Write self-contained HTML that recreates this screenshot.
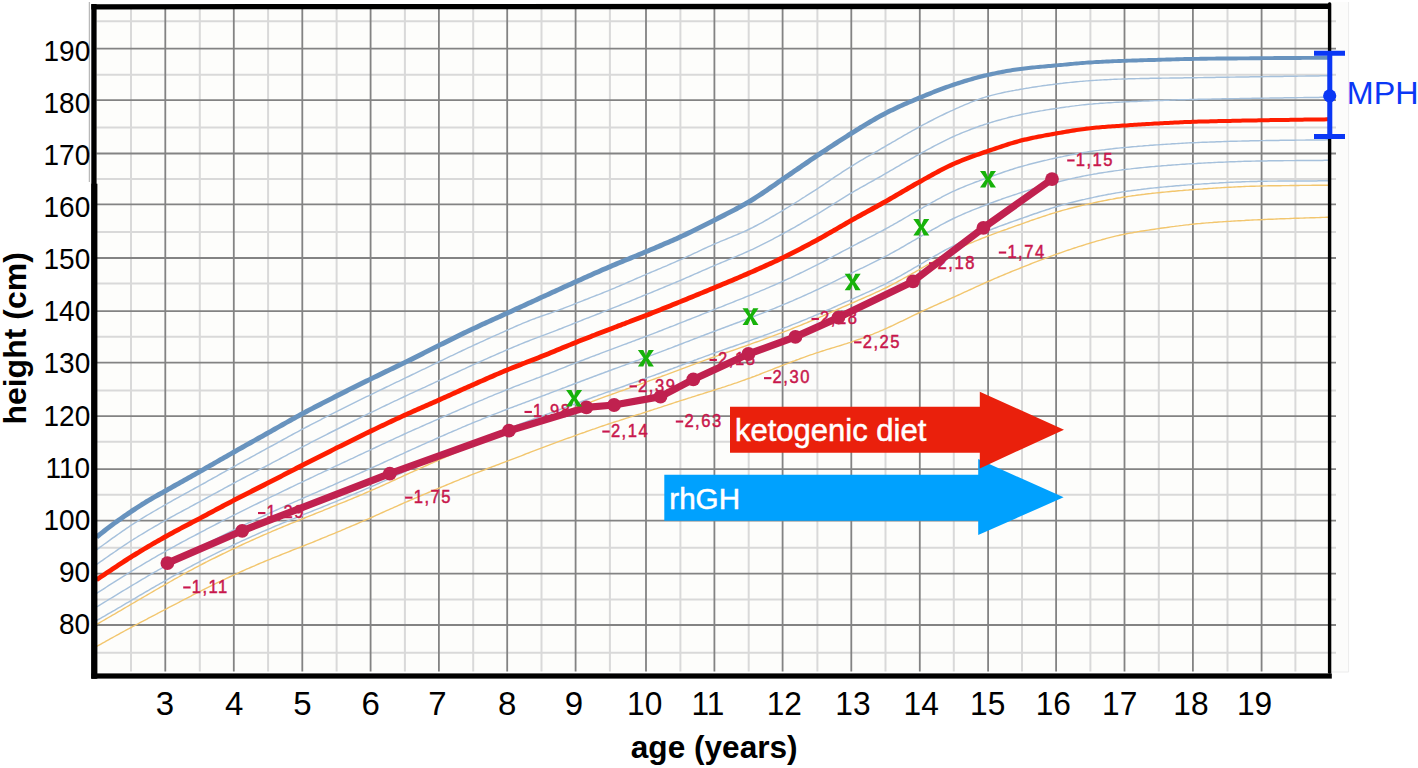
<!DOCTYPE html><html><head><meta charset="utf-8"><title>growth chart</title><style>
html,body{margin:0;padding:0;background:#fff;width:1418px;height:768px;overflow:hidden}
svg{display:block} text{font-family:"Liberation Sans",sans-serif}
</style></head><body>
<svg width="1418" height="768" viewBox="0 0 1418 768">
<rect x="1331" y="2" width="17.5" height="670" fill="#fcfcfb"/>
<path d="M1348.6,2 V672 H1331" stroke="#ececec" stroke-width="1" fill="none"/>
<rect x="93" y="6" width="1237" height="665.8" fill="#fdfdfb"/>
<path d="M131,7 V671.6 M199.8,7 V671.6 M268.1,7 V671.6 M336.6,7 V671.6 M404.9,7 V671.6 M473.2,7 V671.6 M541.5,7 V671.6 M609.9,7 V671.6 M680.4,7 V671.6 M748.7,7 V671.6 M817.4,7 V671.6 M885.5,7 V671.6 M953.8,7 V671.6 M1022,7 V671.6 M1090.4,7 V671.6 M1158.8,7 V671.6 M1227.5,7 V671.6 M1295.4,7 V671.6 M96.5,21.2 H1336 M96.5,74.8 H1336 M96.5,127.4 H1336 M96.5,178.9 H1336 M96.5,232 H1336 M96.5,283.5 H1336 M96.5,336.7 H1336 M96.5,390.5 H1336 M96.5,441.8 H1336 M96.5,494.8 H1336 M96.5,547.8 H1336 M96.5,599.6 H1336 M96.5,652.8 H1336" stroke="#d9d9d9" stroke-width="2" fill="none"/>
<path d="M165.3,7 V671.6 M233.8,7 V671.6 M302.3,7 V671.6 M370.6,7 V671.6 M438.9,7 V671.6 M507.2,7 V671.6 M575.6,7 V671.6 M646,7 V671.6 M714.4,7 V671.6 M782.6,7 V671.6 M851.3,7 V671.6 M919.8,7 V671.6 M988.1,7 V671.6 M1056.1,7 V671.6 M1124.5,7 V671.6 M1192.9,7 V671.6 M1261.6,7 V671.6 M96.5,48.6 H1336 M96.5,100.1 H1336 M96.5,153.5 H1336 M96.5,204.4 H1336 M96.5,258 H1336 M96.5,311.2 H1336 M96.5,362.6 H1336 M96.5,416.2 H1336 M96.5,469.2 H1336 M96.5,520.6 H1336 M96.5,573.7 H1336 M96.5,625 H1336" stroke="#838383" stroke-width="1.8" fill="none"/>
<path d="M89.3,2 V182" stroke="#a8a8a8" stroke-width="1"/>
<path d="M96.5,646.5 L98.5,645.4 L100.5,644.3 L102.5,643.2 L104.5,642.1 L106.5,640.9 L108.5,639.8 L110.5,638.7 L112.5,637.6 L114.5,636.5 L116.5,635.4 L118.5,634.3 L120.5,633.2 L122.5,632.1 L124.5,631 L126.5,629.9 L128.5,628.9 L130.5,627.8 L132.5,626.7 L134.5,625.6 L136.5,624.6 L138.5,623.5 L140.5,622.4 L142.5,621.4 L144.5,620.3 L146.5,619.3 L148.5,618.2 L150.5,617.2 L152.5,616.1 L154.5,615.1 L156.5,614 L158.5,613 L160.5,611.9 L162.5,610.9 L164.5,609.8 L166.5,608.8 L168.5,607.7 L170.5,606.7 L172.5,605.6 L174.5,604.6 L176.5,603.6 L178.5,602.5 L180.5,601.5 L182.5,600.4 L184.5,599.4 L186.5,598.3 L188.5,597.3 L190.5,596.3 L192.5,595.2 L194.5,594.2 L196.5,593.2 L198.5,592.1 L200.5,591.1 L202.5,590.1 L204.5,589.1 L206.5,588.1 L208.5,587.1 L210.5,586.2 L212.5,585.2 L214.5,584.2 L216.5,583.2 L218.5,582.2 L220.5,581.3 L222.5,580.3 L224.5,579.4 L226.5,578.4 L228.5,577.5 L230.5,576.5 L232.5,575.6 L234.5,574.7 L236.5,573.8 L238.5,572.8 L240.5,571.9 L242.5,571 L244.5,570.1 L246.5,569.2 L248.5,568.4 L250.5,567.5 L252.5,566.6 L254.5,565.8 L256.5,564.9 L258.5,564 L260.5,563.2 L262.5,562.4 L264.5,561.5 L266.5,560.7 L268.5,559.9 L270.5,559.1 L272.5,558.2 L274.5,557.4 L276.5,556.6 L278.5,555.8 L280.5,555 L282.5,554.2 L284.5,553.4 L286.5,552.6 L288.5,551.8 L290.5,551 L292.5,550.2 L294.5,549.4 L296.5,548.7 L298.5,547.9 L300.5,547.1 L302.5,546.3 L304.5,545.5 L306.5,544.7 L308.5,543.9 L310.5,543.1 L312.5,542.3 L314.5,541.5 L316.5,540.7 L318.5,539.8 L320.5,539 L322.5,538.2 L324.5,537.4 L326.5,536.6 L328.5,535.7 L330.5,534.9 L332.5,534.1 L334.5,533.3 L336.5,532.4 L338.5,531.6 L340.5,530.8 L342.5,529.9 L344.5,529.1 L346.5,528.2 L348.5,527.4 L350.5,526.5 L352.5,525.7 L354.5,524.8 L356.5,524 L358.5,523.1 L360.5,522.2 L362.5,521.4 L364.5,520.5 L366.5,519.6 L368.5,518.8 L370.5,517.9 L372.5,517 L374.5,516.1 L376.5,515.2 L378.5,514.3 L380.5,513.4 L382.5,512.5 L384.5,511.6 L386.5,510.7 L388.5,509.8 L390.5,508.9 L392.5,508.1 L394.5,507.2 L396.5,506.3 L398.5,505.4 L400.5,504.5 L402.5,503.6 L404.5,502.7 L406.5,501.9 L408.5,501 L410.5,500.1 L412.5,499.3 L414.5,498.4 L416.5,497.6 L418.5,496.7 L420.5,495.9 L422.5,495 L424.5,494.2 L426.5,493.3 L428.5,492.5 L430.5,491.7 L432.5,490.8 L434.5,490 L436.5,489.2 L438.5,488.3 L440.5,487.5 L442.5,486.7 L444.5,485.8 L446.5,485 L448.5,484.2 L450.5,483.3 L452.5,482.5 L454.5,481.7 L456.5,480.9 L458.5,480.1 L460.5,479.2 L462.5,478.4 L464.5,477.6 L466.5,476.8 L468.5,476 L470.5,475.2 L472.5,474.4 L474.5,473.6 L476.5,472.9 L478.5,472.1 L480.5,471.3 L482.5,470.5 L484.5,469.8 L486.5,469 L488.5,468.2 L490.5,467.5 L492.5,466.7 L494.5,466 L496.5,465.2 L498.5,464.5 L500.5,463.7 L502.5,462.9 L504.5,462.2 L506.5,461.4 L508.5,460.7 L510.5,459.9 L512.5,459.1 L514.5,458.4 L516.5,457.6 L518.5,456.8 L520.5,456.1 L522.5,455.3 L524.5,454.5 L526.5,453.7 L528.5,453 L530.5,452.2 L532.5,451.4 L534.5,450.7 L536.5,449.9 L538.5,449.1 L540.5,448.4 L542.5,447.6 L544.5,446.9 L546.5,446.1 L548.5,445.4 L550.5,444.6 L552.5,443.9 L554.5,443.1 L556.5,442.4 L558.5,441.6 L560.5,440.9 L562.5,440.2 L564.5,439.4 L566.5,438.7 L568.5,438 L570.5,437.3 L572.5,436.6 L574.5,435.8 L576.5,435.1 L578.5,434.4 L580.5,433.7 L582.5,433 L584.5,432.3 L586.5,431.5 L588.5,430.8 L590.5,430.1 L592.5,429.4 L594.5,428.8 L596.5,428.1 L598.5,427.4 L600.5,426.7 L602.5,426 L604.5,425.3 L606.5,424.7 L608.5,424 L610.5,423.3 L612.5,422.7 L614.5,422 L616.5,421.4 L618.5,420.8 L620.5,420.1 L622.5,419.5 L624.5,418.8 L626.5,418.2 L628.5,417.6 L630.5,416.9 L632.5,416.3 L634.5,415.7 L636.5,415 L638.5,414.4 L640.5,413.8 L642.5,413.1 L644.5,412.5 L646.5,411.8 L648.5,411.2 L650.5,410.5 L652.5,409.9 L654.5,409.2 L656.5,408.6 L658.5,407.9 L660.5,407.3 L662.5,406.6 L664.5,405.9 L666.5,405.3 L668.5,404.6 L670.5,404 L672.5,403.3 L674.5,402.7 L676.5,402 L678.5,401.4 L680.5,400.7 L682.5,400.1 L684.5,399.5 L686.5,398.8 L688.5,398.2 L690.5,397.6 L692.5,396.9 L694.5,396.3 L696.5,395.7 L698.5,395 L700.5,394.4 L702.5,393.8 L704.5,393.1 L706.5,392.5 L708.5,391.9 L710.5,391.3 L712.5,390.6 L714.5,390 L716.5,389.3 L718.5,388.7 L720.5,388.1 L722.5,387.4 L724.5,386.8 L726.5,386.1 L728.5,385.4 L730.5,384.8 L732.5,384.1 L734.5,383.4 L736.5,382.8 L738.5,382.1 L740.5,381.4 L742.5,380.7 L744.5,380 L746.5,379.2 L748.5,378.5 L750.5,377.8 L752.5,377 L754.5,376.3 L756.5,375.5 L758.5,374.8 L760.5,374 L762.5,373.2 L764.5,372.4 L766.5,371.7 L768.5,370.9 L770.5,370.1 L772.5,369.3 L774.5,368.5 L776.5,367.7 L778.5,367 L780.5,366.2 L782.5,365.4 L784.5,364.6 L786.5,363.8 L788.5,363.1 L790.5,362.3 L792.5,361.5 L794.5,360.8 L796.5,360 L798.5,359.3 L800.5,358.5 L802.5,357.8 L804.5,357.1 L806.5,356.3 L808.5,355.6 L810.5,354.9 L812.5,354.3 L814.5,353.6 L816.5,352.9 L818.5,352.3 L820.5,351.6 L822.5,351 L824.5,350.4 L826.5,349.7 L828.5,349.1 L830.5,348.5 L832.5,347.9 L834.5,347.3 L836.5,346.7 L838.5,346.1 L840.5,345.5 L842.5,344.8 L844.5,344.2 L846.5,343.6 L848.5,342.9 L850.5,342.3 L852.5,341.6 L854.5,340.9 L856.5,340.2 L858.5,339.5 L860.5,338.8 L862.5,338.1 L864.5,337.3 L866.5,336.6 L868.5,335.8 L870.5,335 L872.5,334.3 L874.5,333.4 L876.5,332.6 L878.5,331.8 L880.5,330.9 L882.5,330.1 L884.5,329.2 L886.5,328.3 L888.5,327.4 L890.5,326.5 L892.5,325.6 L894.5,324.6 L896.5,323.7 L898.5,322.7 L900.5,321.7 L902.5,320.8 L904.5,319.8 L906.5,318.8 L908.5,317.8 L910.5,316.9 L912.5,315.9 L914.5,314.9 L916.5,314 L918.5,313 L920.5,312.1 L922.5,311.1 L924.5,310.2 L926.5,309.3 L928.5,308.4 L930.5,307.5 L932.5,306.6 L934.5,305.7 L936.5,304.8 L938.5,303.9 L940.5,303 L942.5,302.1 L944.5,301.3 L946.5,300.4 L948.5,299.5 L950.5,298.6 L952.5,297.7 L954.5,296.8 L956.5,295.9 L958.5,295 L960.5,294.1 L962.5,293.1 L964.5,292.2 L966.5,291.3 L968.5,290.4 L970.5,289.5 L972.5,288.6 L974.5,287.6 L976.5,286.7 L978.5,285.8 L980.5,284.9 L982.5,284 L984.5,283.1 L986.5,282.2 L988.5,281.3 L990.5,280.5 L992.5,279.6 L994.5,278.7 L996.5,277.9 L998.5,277 L1000.5,276.2 L1002.5,275.3 L1004.5,274.5 L1006.5,273.7 L1008.5,272.8 L1010.5,272 L1012.5,271.2 L1014.5,270.4 L1016.5,269.6 L1018.5,268.8 L1020.5,268 L1022.5,267.2 L1024.5,266.4 L1026.5,265.6 L1028.5,264.8 L1030.5,264 L1032.5,263.2 L1034.5,262.4 L1036.5,261.7 L1038.5,260.9 L1040.5,260.1 L1042.5,259.4 L1044.5,258.6 L1046.5,257.9 L1048.5,257.1 L1050.5,256.4 L1052.5,255.7 L1054.5,254.9 L1056.5,254.2 L1058.5,253.5 L1060.5,252.8 L1062.5,252.1 L1064.5,251.4 L1066.5,250.7 L1068.5,250 L1070.5,249.4 L1072.5,248.7 L1074.5,248 L1076.5,247.4 L1078.5,246.7 L1080.5,246.1 L1082.5,245.5 L1084.5,244.8 L1086.5,244.2 L1088.5,243.6 L1090.5,243 L1092.5,242.4 L1094.5,241.8 L1096.5,241.2 L1098.5,240.6 L1100.5,240.1 L1102.5,239.5 L1104.5,239 L1106.5,238.4 L1108.5,237.9 L1110.5,237.4 L1112.5,236.9 L1114.5,236.4 L1116.5,235.9 L1118.5,235.5 L1120.5,235 L1122.5,234.6 L1124.5,234.2 L1126.5,233.8 L1128.5,233.4 L1130.5,233 L1132.5,232.7 L1134.5,232.3 L1136.5,232 L1138.5,231.6 L1140.5,231.3 L1142.5,231 L1144.5,230.7 L1146.5,230.4 L1148.5,230.1 L1150.5,229.8 L1152.5,229.5 L1154.5,229.2 L1156.5,228.9 L1158.5,228.6 L1160.5,228.3 L1162.5,228 L1164.5,227.7 L1166.5,227.5 L1168.5,227.2 L1170.5,226.9 L1172.5,226.6 L1174.5,226.4 L1176.5,226.1 L1178.5,225.9 L1180.5,225.6 L1182.5,225.4 L1184.5,225.1 L1186.5,224.9 L1188.5,224.7 L1190.5,224.4 L1192.5,224.2 L1194.5,224 L1196.5,223.8 L1198.5,223.6 L1200.5,223.5 L1202.5,223.3 L1204.5,223.1 L1206.5,222.9 L1208.5,222.8 L1210.5,222.6 L1212.5,222.5 L1214.5,222.3 L1216.5,222.2 L1218.5,222 L1220.5,221.9 L1222.5,221.8 L1224.5,221.6 L1226.5,221.5 L1228.5,221.4 L1230.5,221.3 L1232.5,221.1 L1234.5,221 L1236.5,220.9 L1238.5,220.8 L1240.5,220.7 L1242.5,220.6 L1244.5,220.5 L1246.5,220.3 L1248.5,220.2 L1250.5,220.1 L1252.5,220 L1254.5,219.9 L1256.5,219.9 L1258.5,219.8 L1260.5,219.7 L1262.5,219.6 L1264.5,219.5 L1266.5,219.4 L1268.5,219.3 L1270.5,219.2 L1272.5,219.2 L1274.5,219.1 L1276.5,219 L1278.5,218.9 L1280.5,218.8 L1282.5,218.8 L1284.5,218.7 L1286.5,218.6 L1288.5,218.6 L1290.5,218.5 L1292.5,218.4 L1294.5,218.3 L1296.5,218.3 L1298.5,218.2 L1300.5,218.1 L1302.5,218.1 L1304.5,218 L1306.5,217.9 L1308.5,217.9 L1310.5,217.8 L1312.5,217.7 L1314.5,217.7 L1316.5,217.6 L1318.5,217.6 L1320.5,217.5 L1322.5,217.4 L1324.5,217.4 L1326.5,217.3 L1328.5,217.2 L1329,217.2" stroke="#f2c66e" stroke-width="1.4" fill="none"/>
<path d="M96.5,624.5 L98.5,623.3 L100.5,622.2 L102.5,621 L104.5,619.9 L106.5,618.7 L108.5,617.5 L110.5,616.4 L112.5,615.2 L114.5,614.1 L116.5,612.9 L118.5,611.7 L120.5,610.6 L122.5,609.4 L124.5,608.2 L126.5,607 L128.5,605.9 L130.5,604.7 L132.5,603.5 L134.5,602.4 L136.5,601.2 L138.5,600 L140.5,598.8 L142.5,597.7 L144.5,596.5 L146.5,595.3 L148.5,594.2 L150.5,593 L152.5,591.8 L154.5,590.7 L156.5,589.5 L158.5,588.4 L160.5,587.2 L162.5,586.1 L164.5,584.9 L166.5,583.8 L168.5,582.6 L170.5,581.5 L172.5,580.3 L174.5,579.2 L176.5,578.1 L178.5,577 L180.5,575.8 L182.5,574.7 L184.5,573.6 L186.5,572.5 L188.5,571.4 L190.5,570.4 L192.5,569.3 L194.5,568.2 L196.5,567.1 L198.5,566.1 L200.5,565 L202.5,564 L204.5,563 L206.5,562 L208.5,560.9 L210.5,559.9 L212.5,558.9 L214.5,558 L216.5,557 L218.5,556 L220.5,555 L222.5,554 L224.5,553.1 L226.5,552.1 L228.5,551.1 L230.5,550.2 L232.5,549.2 L234.5,548.3 L236.5,547.3 L238.5,546.4 L240.5,545.5 L242.5,544.5 L244.5,543.6 L246.5,542.7 L248.5,541.8 L250.5,540.9 L252.5,540 L254.5,539.1 L256.5,538.2 L258.5,537.3 L260.5,536.4 L262.5,535.5 L264.5,534.6 L266.5,533.8 L268.5,532.9 L270.5,532.1 L272.5,531.2 L274.5,530.3 L276.5,529.5 L278.5,528.7 L280.5,527.8 L282.5,527 L284.5,526.2 L286.5,525.3 L288.5,524.5 L290.5,523.7 L292.5,522.9 L294.5,522.1 L296.5,521.3 L298.5,520.5 L300.5,519.6 L302.5,518.8 L304.5,518 L306.5,517.2 L308.5,516.4 L310.5,515.6 L312.5,514.8 L314.5,514 L316.5,513.2 L318.5,512.4 L320.5,511.6 L322.5,510.8 L324.5,509.9 L326.5,509.1 L328.5,508.3 L330.5,507.5 L332.5,506.7 L334.5,505.9 L336.5,505.1 L338.5,504.2 L340.5,503.4 L342.5,502.6 L344.5,501.8 L346.5,501 L348.5,500.1 L350.5,499.3 L352.5,498.5 L354.5,497.6 L356.5,496.8 L358.5,496 L360.5,495.1 L362.5,494.3 L364.5,493.4 L366.5,492.5 L368.5,491.7 L370.5,490.8 L372.5,489.9 L374.5,489.1 L376.5,488.2 L378.5,487.3 L380.5,486.4 L382.5,485.5 L384.5,484.6 L386.5,483.7 L388.5,482.8 L390.5,481.9 L392.5,480.9 L394.5,480 L396.5,479.1 L398.5,478.2 L400.5,477.3 L402.5,476.3 L404.5,475.4 L406.5,474.5 L408.5,473.6 L410.5,472.7 L412.5,471.8 L414.5,470.9 L416.5,470 L418.5,469.1 L420.5,468.2 L422.5,467.3 L424.5,466.4 L426.5,465.5 L428.5,464.6 L430.5,463.7 L432.5,462.8 L434.5,461.9 L436.5,461 L438.5,460.1 L440.5,459.3 L442.5,458.4 L444.5,457.5 L446.5,456.7 L448.5,455.8 L450.5,454.9 L452.5,454.1 L454.5,453.2 L456.5,452.4 L458.5,451.6 L460.5,450.7 L462.5,449.9 L464.5,449.1 L466.5,448.3 L468.5,447.5 L470.5,446.7 L472.5,445.9 L474.5,445.1 L476.5,444.3 L478.5,443.5 L480.5,442.7 L482.5,441.9 L484.5,441.2 L486.5,440.4 L488.5,439.6 L490.5,438.9 L492.5,438.1 L494.5,437.4 L496.5,436.6 L498.5,435.9 L500.5,435.1 L502.5,434.4 L504.5,433.6 L506.5,432.9 L508.5,432.2 L510.5,431.4 L512.5,430.7 L514.5,429.9 L516.5,429.2 L518.5,428.5 L520.5,427.7 L522.5,427 L524.5,426.3 L526.5,425.5 L528.5,424.8 L530.5,424.1 L532.5,423.3 L534.5,422.6 L536.5,421.9 L538.5,421.1 L540.5,420.4 L542.5,419.7 L544.5,418.9 L546.5,418.2 L548.5,417.5 L550.5,416.7 L552.5,416 L554.5,415.3 L556.5,414.6 L558.5,413.8 L560.5,413.1 L562.5,412.4 L564.5,411.6 L566.5,410.9 L568.5,410.2 L570.5,409.4 L572.5,408.7 L574.5,408 L576.5,407.2 L578.5,406.5 L580.5,405.8 L582.5,405 L584.5,404.3 L586.5,403.5 L588.5,402.8 L590.5,402.1 L592.5,401.3 L594.5,400.6 L596.5,399.9 L598.5,399.1 L600.5,398.4 L602.5,397.7 L604.5,396.9 L606.5,396.2 L608.5,395.5 L610.5,394.8 L612.5,394 L614.5,393.3 L616.5,392.6 L618.5,391.9 L620.5,391.2 L622.5,390.5 L624.5,389.8 L626.5,389 L628.5,388.3 L630.5,387.6 L632.5,386.9 L634.5,386.2 L636.5,385.5 L638.5,384.8 L640.5,384 L642.5,383.3 L644.5,382.6 L646.5,381.9 L648.5,381.1 L650.5,380.4 L652.5,379.7 L654.5,379 L656.5,378.2 L658.5,377.5 L660.5,376.8 L662.5,376 L664.5,375.3 L666.5,374.6 L668.5,373.8 L670.5,373.1 L672.5,372.4 L674.5,371.6 L676.5,370.9 L678.5,370.1 L680.5,369.4 L682.5,368.6 L684.5,367.9 L686.5,367.1 L688.5,366.4 L690.5,365.6 L692.5,364.9 L694.5,364.1 L696.5,363.4 L698.5,362.6 L700.5,361.9 L702.5,361.2 L704.5,360.4 L706.5,359.7 L708.5,359 L710.5,358.2 L712.5,357.5 L714.5,356.8 L716.5,356.1 L718.5,355.4 L720.5,354.7 L722.5,353.9 L724.5,353.2 L726.5,352.5 L728.5,351.8 L730.5,351.1 L732.5,350.5 L734.5,349.8 L736.5,349.1 L738.5,348.4 L740.5,347.7 L742.5,347 L744.5,346.3 L746.5,345.6 L748.5,344.9 L750.5,344.2 L752.5,343.4 L754.5,342.7 L756.5,342 L758.5,341.3 L760.5,340.6 L762.5,339.9 L764.5,339.1 L766.5,338.4 L768.5,337.7 L770.5,336.9 L772.5,336.2 L774.5,335.4 L776.5,334.7 L778.5,333.9 L780.5,333.2 L782.5,332.4 L784.5,331.6 L786.5,330.9 L788.5,330.1 L790.5,329.3 L792.5,328.5 L794.5,327.7 L796.5,326.9 L798.5,326.1 L800.5,325.3 L802.5,324.5 L804.5,323.7 L806.5,322.9 L808.5,322 L810.5,321.2 L812.5,320.4 L814.5,319.5 L816.5,318.6 L818.5,317.8 L820.5,316.9 L822.5,316.1 L824.5,315.2 L826.5,314.3 L828.5,313.4 L830.5,312.6 L832.5,311.7 L834.5,310.8 L836.5,309.9 L838.5,309 L840.5,308.1 L842.5,307.2 L844.5,306.3 L846.5,305.5 L848.5,304.6 L850.5,303.7 L852.5,302.8 L854.5,302 L856.5,301.1 L858.5,300.2 L860.5,299.3 L862.5,298.5 L864.5,297.6 L866.5,296.7 L868.5,295.8 L870.5,295 L872.5,294.1 L874.5,293.2 L876.5,292.2 L878.5,291.3 L880.5,290.4 L882.5,289.4 L884.5,288.5 L886.5,287.5 L888.5,286.5 L890.5,285.5 L892.5,284.4 L894.5,283.4 L896.5,282.3 L898.5,281.2 L900.5,280.1 L902.5,279 L904.5,277.9 L906.5,276.8 L908.5,275.7 L910.5,274.6 L912.5,273.4 L914.5,272.3 L916.5,271.1 L918.5,270 L920.5,268.8 L922.5,267.7 L924.5,266.5 L926.5,265.4 L928.5,264.3 L930.5,263.1 L932.5,262 L934.5,260.9 L936.5,259.7 L938.5,258.6 L940.5,257.5 L942.5,256.5 L944.5,255.4 L946.5,254.3 L948.5,253.3 L950.5,252.3 L952.5,251.3 L954.5,250.3 L956.5,249.3 L958.5,248.4 L960.5,247.5 L962.5,246.6 L964.5,245.7 L966.5,244.8 L968.5,243.9 L970.5,243.1 L972.5,242.3 L974.5,241.4 L976.5,240.6 L978.5,239.8 L980.5,239 L982.5,238.2 L984.5,237.5 L986.5,236.7 L988.5,235.9 L990.5,235.2 L992.5,234.4 L994.5,233.7 L996.5,232.9 L998.5,232.2 L1000.5,231.4 L1002.5,230.7 L1004.5,230 L1006.5,229.3 L1008.5,228.5 L1010.5,227.8 L1012.5,227.1 L1014.5,226.4 L1016.5,225.7 L1018.5,225 L1020.5,224.3 L1022.5,223.6 L1024.5,222.9 L1026.5,222.2 L1028.5,221.5 L1030.5,220.7 L1032.5,220 L1034.5,219.3 L1036.5,218.7 L1038.5,218 L1040.5,217.3 L1042.5,216.6 L1044.5,216 L1046.5,215.3 L1048.5,214.7 L1050.5,214 L1052.5,213.4 L1054.5,212.8 L1056.5,212.2 L1058.5,211.6 L1060.5,211 L1062.5,210.4 L1064.5,209.9 L1066.5,209.4 L1068.5,208.8 L1070.5,208.3 L1072.5,207.8 L1074.5,207.3 L1076.5,206.8 L1078.5,206.3 L1080.5,205.8 L1082.5,205.3 L1084.5,204.9 L1086.5,204.4 L1088.5,204 L1090.5,203.5 L1092.5,203.1 L1094.5,202.6 L1096.5,202.2 L1098.5,201.8 L1100.5,201.4 L1102.5,201 L1104.5,200.6 L1106.5,200.2 L1108.5,199.8 L1110.5,199.4 L1112.5,199.1 L1114.5,198.7 L1116.5,198.3 L1118.5,198 L1120.5,197.7 L1122.5,197.3 L1124.5,197 L1126.5,196.7 L1128.5,196.4 L1130.5,196.1 L1132.5,195.8 L1134.5,195.6 L1136.5,195.3 L1138.5,195 L1140.5,194.8 L1142.5,194.5 L1144.5,194.3 L1146.5,194 L1148.5,193.8 L1150.5,193.6 L1152.5,193.3 L1154.5,193.1 L1156.5,192.9 L1158.5,192.7 L1160.5,192.5 L1162.5,192.3 L1164.5,192.1 L1166.5,191.9 L1168.5,191.7 L1170.5,191.5 L1172.5,191.3 L1174.5,191.2 L1176.5,191 L1178.5,190.8 L1180.5,190.6 L1182.5,190.5 L1184.5,190.3 L1186.5,190.1 L1188.5,190 L1190.5,189.8 L1192.5,189.7 L1194.5,189.5 L1196.5,189.4 L1198.5,189.2 L1200.5,189.1 L1202.5,189 L1204.5,188.8 L1206.5,188.7 L1208.5,188.5 L1210.5,188.4 L1212.5,188.3 L1214.5,188.1 L1216.5,188 L1218.5,187.9 L1220.5,187.8 L1222.5,187.6 L1224.5,187.5 L1226.5,187.4 L1228.5,187.3 L1230.5,187.2 L1232.5,187.1 L1234.5,187 L1236.5,186.9 L1238.5,186.8 L1240.5,186.7 L1242.5,186.6 L1244.5,186.5 L1246.5,186.4 L1248.5,186.4 L1250.5,186.3 L1252.5,186.2 L1254.5,186.2 L1256.5,186.1 L1258.5,186.1 L1260.5,186 L1262.5,186 L1264.5,185.9 L1266.5,185.9 L1268.5,185.8 L1270.5,185.8 L1272.5,185.8 L1274.5,185.7 L1276.5,185.7 L1278.5,185.7 L1280.5,185.7 L1282.5,185.6 L1284.5,185.6 L1286.5,185.6 L1288.5,185.6 L1290.5,185.5 L1292.5,185.5 L1294.5,185.5 L1296.5,185.5 L1298.5,185.5 L1300.5,185.4 L1302.5,185.4 L1304.5,185.4 L1306.5,185.4 L1308.5,185.4 L1310.5,185.4 L1312.5,185.3 L1314.5,185.3 L1316.5,185.3 L1318.5,185.3 L1320.5,185.3 L1322.5,185.3 L1324.5,185.2 L1326.5,185.2 L1328.5,185.2 L1329,185.2" stroke="#f2c66e" stroke-width="1.4" fill="none"/>
<path d="M96.5,549.8 L98.5,548.4 L100.5,546.9 L102.5,545.5 L104.5,544 L106.5,542.6 L108.5,541.1 L110.5,539.7 L112.5,538.2 L114.5,536.8 L116.5,535.4 L118.5,534 L120.5,532.6 L122.5,531.2 L124.5,529.8 L126.5,528.4 L128.5,527.1 L130.5,525.7 L132.5,524.4 L134.5,523.1 L136.5,521.9 L138.5,520.6 L140.5,519.4 L142.5,518.1 L144.5,516.9 L146.5,515.7 L148.5,514.5 L150.5,513.3 L152.5,512.2 L154.5,511 L156.5,509.8 L158.5,508.7 L160.5,507.5 L162.5,506.3 L164.5,505.2 L166.5,504.1 L168.5,502.9 L170.5,501.8 L172.5,500.7 L174.5,499.5 L176.5,498.4 L178.5,497.3 L180.5,496.2 L182.5,495.1 L184.5,494 L186.5,492.9 L188.5,491.8 L190.5,490.7 L192.5,489.6 L194.5,488.5 L196.5,487.4 L198.5,486.3 L200.5,485.2 L202.5,484.1 L204.5,483 L206.5,481.8 L208.5,480.7 L210.5,479.6 L212.5,478.5 L214.5,477.4 L216.5,476.3 L218.5,475.1 L220.5,474 L222.5,472.9 L224.5,471.8 L226.5,470.7 L228.5,469.6 L230.5,468.5 L232.5,467.4 L234.5,466.3 L236.5,465.2 L238.5,464 L240.5,462.9 L242.5,461.8 L244.5,460.7 L246.5,459.7 L248.5,458.6 L250.5,457.5 L252.5,456.4 L254.5,455.3 L256.5,454.2 L258.5,453.1 L260.5,452 L262.5,450.9 L264.5,449.8 L266.5,448.7 L268.5,447.6 L270.5,446.5 L272.5,445.5 L274.5,444.4 L276.5,443.3 L278.5,442.2 L280.5,441.1 L282.5,440 L284.5,438.9 L286.5,437.8 L288.5,436.7 L290.5,435.6 L292.5,434.5 L294.5,433.4 L296.5,432.4 L298.5,431.3 L300.5,430.2 L302.5,429.1 L304.5,428.1 L306.5,427 L308.5,426 L310.5,424.9 L312.5,423.9 L314.5,422.9 L316.5,421.8 L318.5,420.8 L320.5,419.8 L322.5,418.7 L324.5,417.7 L326.5,416.7 L328.5,415.7 L330.5,414.6 L332.5,413.6 L334.5,412.6 L336.5,411.6 L338.5,410.6 L340.5,409.6 L342.5,408.6 L344.5,407.6 L346.5,406.6 L348.5,405.6 L350.5,404.6 L352.5,403.6 L354.5,402.6 L356.5,401.6 L358.5,400.6 L360.5,399.7 L362.5,398.7 L364.5,397.7 L366.5,396.7 L368.5,395.8 L370.5,394.8 L372.5,393.8 L374.5,392.8 L376.5,391.9 L378.5,390.9 L380.5,389.9 L382.5,389 L384.5,388 L386.5,387 L388.5,386.1 L390.5,385.1 L392.5,384.2 L394.5,383.2 L396.5,382.2 L398.5,381.3 L400.5,380.3 L402.5,379.3 L404.5,378.4 L406.5,377.4 L408.5,376.5 L410.5,375.5 L412.5,374.5 L414.5,373.6 L416.5,372.6 L418.5,371.6 L420.5,370.7 L422.5,369.7 L424.5,368.8 L426.5,367.8 L428.5,366.8 L430.5,365.9 L432.5,364.9 L434.5,363.9 L436.5,363 L438.5,362 L440.5,361 L442.5,360.1 L444.5,359.1 L446.5,358.2 L448.5,357.2 L450.5,356.2 L452.5,355.3 L454.5,354.3 L456.5,353.4 L458.5,352.4 L460.5,351.5 L462.5,350.5 L464.5,349.6 L466.5,348.7 L468.5,347.7 L470.5,346.8 L472.5,345.9 L474.5,344.9 L476.5,344 L478.5,343.1 L480.5,342.2 L482.5,341.3 L484.5,340.4 L486.5,339.4 L488.5,338.5 L490.5,337.6 L492.5,336.7 L494.5,335.8 L496.5,334.9 L498.5,334.1 L500.5,333.2 L502.5,332.3 L504.5,331.4 L506.5,330.5 L508.5,329.6 L510.5,328.7 L512.5,327.8 L514.5,326.9 L516.5,326 L518.5,325.1 L520.5,324.3 L522.5,323.4 L524.5,322.6 L526.5,321.8 L528.5,321 L530.5,320.2 L532.5,319.4 L534.5,318.7 L536.5,317.9 L538.5,317.2 L540.5,316.5 L542.5,315.8 L544.5,315.1 L546.5,314.4 L548.5,313.7 L550.5,313.1 L552.5,312.4 L554.5,311.6 L556.5,310.9 L558.5,310.2 L560.5,309.4 L562.5,308.7 L564.5,307.9 L566.5,307.1 L568.5,306.4 L570.5,305.6 L572.5,304.8 L574.5,304 L576.5,303.2 L578.5,302.4 L580.5,301.6 L582.5,300.8 L584.5,300 L586.5,299.3 L588.5,298.5 L590.5,297.7 L592.5,296.9 L594.5,296.1 L596.5,295.3 L598.5,294.6 L600.5,293.8 L602.5,293 L604.5,292.2 L606.5,291.4 L608.5,290.6 L610.5,289.7 L612.5,288.9 L614.5,288.1 L616.5,287.2 L618.5,286.4 L620.5,285.5 L622.5,284.7 L624.5,283.8 L626.5,282.9 L628.5,282 L630.5,281.2 L632.5,280.3 L634.5,279.4 L636.5,278.5 L638.5,277.7 L640.5,276.8 L642.5,275.9 L644.5,275.1 L646.5,274.2 L648.5,273.4 L650.5,272.5 L652.5,271.7 L654.5,270.8 L656.5,270 L658.5,269.1 L660.5,268.3 L662.5,267.4 L664.5,266.6 L666.5,265.8 L668.5,264.9 L670.5,264 L672.5,263.2 L674.5,262.3 L676.5,261.4 L678.5,260.5 L680.5,259.7 L682.5,258.8 L684.5,257.9 L686.5,256.9 L688.5,256 L690.5,255.1 L692.5,254.1 L694.5,253.2 L696.5,252.3 L698.5,251.3 L700.5,250.4 L702.5,249.4 L704.5,248.5 L706.5,247.6 L708.5,246.7 L710.5,245.8 L712.5,244.9 L714.5,244 L716.5,243.1 L718.5,242.3 L720.5,241.4 L722.5,240.6 L724.5,239.8 L726.5,239 L728.5,238.1 L730.5,237.3 L732.5,236.5 L734.5,235.7 L736.5,234.9 L738.5,234 L740.5,233.2 L742.5,232.3 L744.5,231.4 L746.5,230.5 L748.5,229.5 L750.5,228.5 L752.5,227.6 L754.5,226.5 L756.5,225.5 L758.5,224.4 L760.5,223.4 L762.5,222.3 L764.5,221.1 L766.5,220 L768.5,218.9 L770.5,217.7 L772.5,216.5 L774.5,215.4 L776.5,214.2 L778.5,213 L780.5,211.8 L782.5,210.6 L784.5,209.4 L786.5,208.2 L788.5,207 L790.5,205.7 L792.5,204.5 L794.5,203.3 L796.5,202 L798.5,200.8 L800.5,199.5 L802.5,198.2 L804.5,197 L806.5,195.7 L808.5,194.4 L810.5,193.1 L812.5,191.8 L814.5,190.6 L816.5,189.3 L818.5,188 L820.5,186.6 L822.5,185.3 L824.5,184 L826.5,182.6 L828.5,181.3 L830.5,179.9 L832.5,178.6 L834.5,177.2 L836.5,175.9 L838.5,174.6 L840.5,173.3 L842.5,171.9 L844.5,170.6 L846.5,169.3 L848.5,168.1 L850.5,166.8 L852.5,165.6 L854.5,164.3 L856.5,163.1 L858.5,161.9 L860.5,160.7 L862.5,159.6 L864.5,158.4 L866.5,157.2 L868.5,156.1 L870.5,154.9 L872.5,153.8 L874.5,152.6 L876.5,151.5 L878.5,150.3 L880.5,149.2 L882.5,148 L884.5,146.9 L886.5,145.7 L888.5,144.5 L890.5,143.4 L892.5,142.2 L894.5,141.1 L896.5,139.9 L898.5,138.7 L900.5,137.6 L902.5,136.4 L904.5,135.2 L906.5,134.1 L908.5,132.9 L910.5,131.8 L912.5,130.7 L914.5,129.6 L916.5,128.5 L918.5,127.4 L920.5,126.3 L922.5,125.2 L924.5,124.1 L926.5,123.1 L928.5,122 L930.5,121 L932.5,120 L934.5,118.9 L936.5,117.9 L938.5,116.9 L940.5,115.9 L942.5,115 L944.5,114 L946.5,113 L948.5,112.1 L950.5,111.2 L952.5,110.3 L954.5,109.3 L956.5,108.4 L958.5,107.6 L960.5,106.7 L962.5,105.8 L964.5,104.9 L966.5,104.1 L968.5,103.3 L970.5,102.4 L972.5,101.6 L974.5,100.9 L976.5,100.1 L978.5,99.4 L980.5,98.7 L982.5,98 L984.5,97.4 L986.5,96.8 L988.5,96.2 L990.5,95.6 L992.5,95.1 L994.5,94.6 L996.5,94.1 L998.5,93.6 L1000.5,93.2 L1002.5,92.7 L1004.5,92.3 L1006.5,91.9 L1008.5,91.5 L1010.5,91.1 L1012.5,90.7 L1014.5,90.4 L1016.5,90 L1018.5,89.7 L1020.5,89.3 L1022.5,89 L1024.5,88.6 L1026.5,88.3 L1028.5,88 L1030.5,87.6 L1032.5,87.3 L1034.5,87 L1036.5,86.7 L1038.5,86.4 L1040.5,86.1 L1042.5,85.8 L1044.5,85.5 L1046.5,85.3 L1048.5,85 L1050.5,84.7 L1052.5,84.5 L1054.5,84.2 L1056.5,84 L1058.5,83.7 L1060.5,83.5 L1062.5,83.3 L1064.5,83 L1066.5,82.8 L1068.5,82.6 L1070.5,82.4 L1072.5,82.2 L1074.5,82 L1076.5,81.8 L1078.5,81.6 L1080.5,81.4 L1082.5,81.3 L1084.5,81.1 L1086.5,80.9 L1088.5,80.8 L1090.5,80.6 L1092.5,80.5 L1094.5,80.4 L1096.5,80.2 L1098.5,80.1 L1100.5,80 L1102.5,79.9 L1104.5,79.8 L1106.5,79.7 L1108.5,79.6 L1110.5,79.5 L1112.5,79.4 L1114.5,79.3 L1116.5,79.2 L1118.5,79.1 L1120.5,79.1 L1122.5,79 L1124.5,78.9 L1126.5,78.9 L1128.5,78.8 L1130.5,78.8 L1132.5,78.7 L1134.5,78.7 L1136.5,78.6 L1138.5,78.6 L1140.5,78.5 L1142.5,78.5 L1144.5,78.5 L1146.5,78.4 L1148.5,78.4 L1150.5,78.3 L1152.5,78.3 L1154.5,78.3 L1156.5,78.2 L1158.5,78.2 L1160.5,78.2 L1162.5,78.1 L1164.5,78.1 L1166.5,78.1 L1168.5,78.1 L1170.5,78 L1172.5,78 L1174.5,78 L1176.5,77.9 L1178.5,77.9 L1180.5,77.9 L1182.5,77.9 L1184.5,77.8 L1186.5,77.8 L1188.5,77.8 L1190.5,77.7 L1192.5,77.7 L1194.5,77.7 L1196.5,77.7 L1198.5,77.6 L1200.5,77.6 L1202.5,77.6 L1204.5,77.5 L1206.5,77.5 L1208.5,77.5 L1210.5,77.4 L1212.5,77.4 L1214.5,77.4 L1216.5,77.3 L1218.5,77.3 L1220.5,77.3 L1222.5,77.3 L1224.5,77.2 L1226.5,77.2 L1228.5,77.2 L1230.5,77.1 L1232.5,77.1 L1234.5,77.1 L1236.5,77 L1238.5,77 L1240.5,77 L1242.5,77 L1244.5,76.9 L1246.5,76.9 L1248.5,76.9 L1250.5,76.8 L1252.5,76.8 L1254.5,76.8 L1256.5,76.7 L1258.5,76.7 L1260.5,76.7 L1262.5,76.7 L1264.5,76.6 L1266.5,76.6 L1268.5,76.6 L1270.5,76.5 L1272.5,76.5 L1274.5,76.5 L1276.5,76.5 L1278.5,76.4 L1280.5,76.4 L1282.5,76.4 L1284.5,76.3 L1286.5,76.3 L1288.5,76.3 L1290.5,76.3 L1292.5,76.2 L1294.5,76.2 L1296.5,76.2 L1298.5,76.1 L1300.5,76.1 L1302.5,76.1 L1304.5,76.1 L1306.5,76 L1308.5,76 L1310.5,76 L1312.5,75.9 L1314.5,75.9 L1316.5,75.9 L1318.5,75.9 L1320.5,75.8 L1322.5,75.8 L1324.5,75.8 L1326.5,75.7 L1328.5,75.7 L1329,75.7" stroke="#a6c1dc" stroke-width="1.45" fill="none"/>
<path d="M96.5,564.5 L98.5,563.1 L100.5,561.7 L102.5,560.3 L104.5,558.9 L106.5,557.5 L108.5,556.1 L110.5,554.7 L112.5,553.3 L114.5,552 L116.5,550.6 L118.5,549.2 L120.5,547.9 L122.5,546.5 L124.5,545.2 L126.5,543.8 L128.5,542.5 L130.5,541.2 L132.5,540 L134.5,538.7 L136.5,537.5 L138.5,536.2 L140.5,535 L142.5,533.8 L144.5,532.6 L146.5,531.4 L148.5,530.2 L150.5,529 L152.5,527.8 L154.5,526.6 L156.5,525.5 L158.5,524.3 L160.5,523.2 L162.5,522 L164.5,520.9 L166.5,519.8 L168.5,518.6 L170.5,517.5 L172.5,516.4 L174.5,515.3 L176.5,514.2 L178.5,513.1 L180.5,512.1 L182.5,511 L184.5,509.9 L186.5,508.8 L188.5,507.8 L190.5,506.7 L192.5,505.6 L194.5,504.5 L196.5,503.4 L198.5,502.4 L200.5,501.3 L202.5,500.2 L204.5,499.1 L206.5,498 L208.5,496.9 L210.5,495.8 L212.5,494.7 L214.5,493.6 L216.5,492.6 L218.5,491.5 L220.5,490.4 L222.5,489.3 L224.5,488.2 L226.5,487.1 L228.5,486 L230.5,485 L232.5,483.9 L234.5,482.8 L236.5,481.7 L238.5,480.7 L240.5,479.6 L242.5,478.5 L244.5,477.5 L246.5,476.4 L248.5,475.4 L250.5,474.3 L252.5,473.3 L254.5,472.2 L256.5,471.2 L258.5,470.1 L260.5,469.1 L262.5,468 L264.5,467 L266.5,465.9 L268.5,464.9 L270.5,463.8 L272.5,462.7 L274.5,461.7 L276.5,460.6 L278.5,459.6 L280.5,458.5 L282.5,457.4 L284.5,456.4 L286.5,455.3 L288.5,454.2 L290.5,453.2 L292.5,452.1 L294.5,451.1 L296.5,450 L298.5,449 L300.5,447.9 L302.5,446.9 L304.5,445.8 L306.5,444.8 L308.5,443.8 L310.5,442.7 L312.5,441.7 L314.5,440.7 L316.5,439.6 L318.5,438.6 L320.5,437.6 L322.5,436.6 L324.5,435.6 L326.5,434.6 L328.5,433.5 L330.5,432.5 L332.5,431.5 L334.5,430.5 L336.5,429.5 L338.5,428.5 L340.5,427.5 L342.5,426.5 L344.5,425.5 L346.5,424.5 L348.5,423.5 L350.5,422.5 L352.5,421.5 L354.5,420.5 L356.5,419.6 L358.5,418.6 L360.5,417.6 L362.5,416.6 L364.5,415.6 L366.5,414.7 L368.5,413.7 L370.5,412.7 L372.5,411.8 L374.5,410.8 L376.5,409.8 L378.5,408.9 L380.5,407.9 L382.5,406.9 L384.5,406 L386.5,405 L388.5,404.1 L390.5,403.1 L392.5,402.2 L394.5,401.2 L396.5,400.3 L398.5,399.3 L400.5,398.4 L402.5,397.5 L404.5,396.5 L406.5,395.6 L408.5,394.7 L410.5,393.7 L412.5,392.8 L414.5,391.9 L416.5,390.9 L418.5,390 L420.5,389.1 L422.5,388.2 L424.5,387.3 L426.5,386.3 L428.5,385.4 L430.5,384.5 L432.5,383.6 L434.5,382.7 L436.5,381.7 L438.5,380.8 L440.5,379.9 L442.5,379 L444.5,378 L446.5,377.1 L448.5,376.2 L450.5,375.2 L452.5,374.3 L454.5,373.4 L456.5,372.5 L458.5,371.5 L460.5,370.6 L462.5,369.7 L464.5,368.8 L466.5,367.8 L468.5,366.9 L470.5,366 L472.5,365.1 L474.5,364.2 L476.5,363.3 L478.5,362.4 L480.5,361.5 L482.5,360.6 L484.5,359.7 L486.5,358.8 L488.5,357.9 L490.5,357 L492.5,356.2 L494.5,355.3 L496.5,354.4 L498.5,353.5 L500.5,352.6 L502.5,351.8 L504.5,350.9 L506.5,350 L508.5,349.2 L510.5,348.3 L512.5,347.5 L514.5,346.6 L516.5,345.8 L518.5,345 L520.5,344.2 L522.5,343.3 L524.5,342.5 L526.5,341.7 L528.5,341 L530.5,340.2 L532.5,339.4 L534.5,338.6 L536.5,337.9 L538.5,337.1 L540.5,336.4 L542.5,335.6 L544.5,334.9 L546.5,334.1 L548.5,333.4 L550.5,332.6 L552.5,331.9 L554.5,331.1 L556.5,330.3 L558.5,329.5 L560.5,328.8 L562.5,328 L564.5,327.2 L566.5,326.4 L568.5,325.6 L570.5,324.8 L572.5,324 L574.5,323.2 L576.5,322.4 L578.5,321.6 L580.5,320.8 L582.5,320 L584.5,319.2 L586.5,318.4 L588.5,317.7 L590.5,316.9 L592.5,316.1 L594.5,315.3 L596.5,314.5 L598.5,313.8 L600.5,313 L602.5,312.2 L604.5,311.4 L606.5,310.6 L608.5,309.8 L610.5,309 L612.5,308.2 L614.5,307.4 L616.5,306.6 L618.5,305.8 L620.5,305 L622.5,304.2 L624.5,303.4 L626.5,302.6 L628.5,301.8 L630.5,301 L632.5,300.1 L634.5,299.3 L636.5,298.5 L638.5,297.7 L640.5,296.9 L642.5,296 L644.5,295.2 L646.5,294.4 L648.5,293.6 L650.5,292.8 L652.5,292 L654.5,291.1 L656.5,290.3 L658.5,289.5 L660.5,288.7 L662.5,287.9 L664.5,287 L666.5,286.2 L668.5,285.4 L670.5,284.5 L672.5,283.7 L674.5,282.9 L676.5,282 L678.5,281.2 L680.5,280.3 L682.5,279.5 L684.5,278.6 L686.5,277.7 L688.5,276.9 L690.5,276 L692.5,275.1 L694.5,274.2 L696.5,273.4 L698.5,272.5 L700.5,271.6 L702.5,270.7 L704.5,269.8 L706.5,269 L708.5,268.1 L710.5,267.2 L712.5,266.4 L714.5,265.5 L716.5,264.7 L718.5,263.8 L720.5,263 L722.5,262.2 L724.5,261.3 L726.5,260.5 L728.5,259.7 L730.5,258.9 L732.5,258 L734.5,257.2 L736.5,256.4 L738.5,255.5 L740.5,254.7 L742.5,253.8 L744.5,252.9 L746.5,252 L748.5,251.1 L750.5,250.2 L752.5,249.3 L754.5,248.3 L756.5,247.3 L758.5,246.4 L760.5,245.4 L762.5,244.4 L764.5,243.4 L766.5,242.4 L768.5,241.3 L770.5,240.3 L772.5,239.3 L774.5,238.2 L776.5,237.1 L778.5,236.1 L780.5,235 L782.5,233.9 L784.5,232.8 L786.5,231.7 L788.5,230.6 L790.5,229.5 L792.5,228.4 L794.5,227.3 L796.5,226.1 L798.5,225 L800.5,223.9 L802.5,222.7 L804.5,221.5 L806.5,220.4 L808.5,219.2 L810.5,218 L812.5,216.9 L814.5,215.7 L816.5,214.5 L818.5,213.3 L820.5,212.1 L822.5,210.8 L824.5,209.6 L826.5,208.4 L828.5,207.1 L830.5,205.9 L832.5,204.6 L834.5,203.4 L836.5,202.1 L838.5,200.9 L840.5,199.6 L842.5,198.4 L844.5,197.2 L846.5,195.9 L848.5,194.7 L850.5,193.5 L852.5,192.4 L854.5,191.2 L856.5,190 L858.5,188.9 L860.5,187.7 L862.5,186.6 L864.5,185.5 L866.5,184.3 L868.5,183.2 L870.5,182.1 L872.5,181 L874.5,179.8 L876.5,178.7 L878.5,177.6 L880.5,176.5 L882.5,175.3 L884.5,174.2 L886.5,173 L888.5,171.9 L890.5,170.7 L892.5,169.6 L894.5,168.4 L896.5,167.2 L898.5,166.1 L900.5,164.9 L902.5,163.7 L904.5,162.6 L906.5,161.4 L908.5,160.3 L910.5,159.1 L912.5,158 L914.5,156.8 L916.5,155.7 L918.5,154.6 L920.5,153.5 L922.5,152.4 L924.5,151.3 L926.5,150.2 L928.5,149.1 L930.5,148.1 L932.5,147 L934.5,145.9 L936.5,144.9 L938.5,143.8 L940.5,142.8 L942.5,141.8 L944.5,140.8 L946.5,139.8 L948.5,138.9 L950.5,137.9 L952.5,137 L954.5,136.1 L956.5,135.2 L958.5,134.4 L960.5,133.5 L962.5,132.7 L964.5,131.9 L966.5,131.1 L968.5,130.3 L970.5,129.5 L972.5,128.7 L974.5,128 L976.5,127.3 L978.5,126.5 L980.5,125.8 L982.5,125.2 L984.5,124.5 L986.5,123.9 L988.5,123.2 L990.5,122.6 L992.5,122 L994.5,121.4 L996.5,120.8 L998.5,120.2 L1000.5,119.7 L1002.5,119.1 L1004.5,118.6 L1006.5,118.1 L1008.5,117.5 L1010.5,117 L1012.5,116.5 L1014.5,116.1 L1016.5,115.6 L1018.5,115.2 L1020.5,114.7 L1022.5,114.3 L1024.5,113.9 L1026.5,113.5 L1028.5,113.1 L1030.5,112.7 L1032.5,112.3 L1034.5,112 L1036.5,111.6 L1038.5,111.3 L1040.5,110.9 L1042.5,110.6 L1044.5,110.2 L1046.5,109.9 L1048.5,109.6 L1050.5,109.3 L1052.5,109 L1054.5,108.7 L1056.5,108.4 L1058.5,108.1 L1060.5,107.8 L1062.5,107.5 L1064.5,107.2 L1066.5,106.9 L1068.5,106.7 L1070.5,106.4 L1072.5,106.1 L1074.5,105.9 L1076.5,105.6 L1078.5,105.4 L1080.5,105.1 L1082.5,104.9 L1084.5,104.7 L1086.5,104.5 L1088.5,104.3 L1090.5,104.1 L1092.5,104 L1094.5,103.8 L1096.5,103.6 L1098.5,103.5 L1100.5,103.3 L1102.5,103.2 L1104.5,103.1 L1106.5,102.9 L1108.5,102.8 L1110.5,102.7 L1112.5,102.6 L1114.5,102.4 L1116.5,102.3 L1118.5,102.2 L1120.5,102.1 L1122.5,102 L1124.5,101.9 L1126.5,101.8 L1128.5,101.7 L1130.5,101.6 L1132.5,101.5 L1134.5,101.4 L1136.5,101.4 L1138.5,101.3 L1140.5,101.2 L1142.5,101.1 L1144.5,101 L1146.5,100.9 L1148.5,100.9 L1150.5,100.8 L1152.5,100.7 L1154.5,100.6 L1156.5,100.6 L1158.5,100.5 L1160.5,100.4 L1162.5,100.4 L1164.5,100.3 L1166.5,100.2 L1168.5,100.2 L1170.5,100.1 L1172.5,100 L1174.5,100 L1176.5,99.9 L1178.5,99.8 L1180.5,99.8 L1182.5,99.7 L1184.5,99.7 L1186.5,99.6 L1188.5,99.6 L1190.5,99.5 L1192.5,99.5 L1194.5,99.4 L1196.5,99.4 L1198.5,99.3 L1200.5,99.3 L1202.5,99.2 L1204.5,99.2 L1206.5,99.2 L1208.5,99.1 L1210.5,99.1 L1212.5,99 L1214.5,99 L1216.5,99 L1218.5,98.9 L1220.5,98.9 L1222.5,98.8 L1224.5,98.8 L1226.5,98.8 L1228.5,98.7 L1230.5,98.7 L1232.5,98.7 L1234.5,98.6 L1236.5,98.6 L1238.5,98.6 L1240.5,98.5 L1242.5,98.5 L1244.5,98.5 L1246.5,98.4 L1248.5,98.4 L1250.5,98.4 L1252.5,98.3 L1254.5,98.3 L1256.5,98.3 L1258.5,98.2 L1260.5,98.2 L1262.5,98.2 L1264.5,98.1 L1266.5,98.1 L1268.5,98.1 L1270.5,98 L1272.5,98 L1274.5,98 L1276.5,98 L1278.5,97.9 L1280.5,97.9 L1282.5,97.9 L1284.5,97.8 L1286.5,97.8 L1288.5,97.8 L1290.5,97.7 L1292.5,97.7 L1294.5,97.7 L1296.5,97.7 L1298.5,97.6 L1300.5,97.6 L1302.5,97.6 L1304.5,97.5 L1306.5,97.5 L1308.5,97.5 L1310.5,97.5 L1312.5,97.4 L1314.5,97.4 L1316.5,97.4 L1318.5,97.4 L1320.5,97.3 L1322.5,97.3 L1324.5,97.3 L1326.5,97.2 L1328.5,97.2 L1329,97.2" stroke="#a6c1dc" stroke-width="1.45" fill="none"/>
<path d="M96.5,593.4 L98.5,592.1 L100.5,590.8 L102.5,589.6 L104.5,588.3 L106.5,587 L108.5,585.7 L110.5,584.4 L112.5,583.2 L114.5,581.9 L116.5,580.6 L118.5,579.4 L120.5,578.1 L122.5,576.8 L124.5,575.6 L126.5,574.3 L128.5,573.1 L130.5,571.9 L132.5,570.6 L134.5,569.4 L136.5,568.2 L138.5,567 L140.5,565.8 L142.5,564.6 L144.5,563.4 L146.5,562.2 L148.5,561.1 L150.5,559.9 L152.5,558.7 L154.5,557.6 L156.5,556.4 L158.5,555.2 L160.5,554.1 L162.5,553 L164.5,551.8 L166.5,550.7 L168.5,549.6 L170.5,548.5 L172.5,547.4 L174.5,546.3 L176.5,545.2 L178.5,544.1 L180.5,543 L182.5,541.9 L184.5,540.9 L186.5,539.8 L188.5,538.7 L190.5,537.7 L192.5,536.6 L194.5,535.6 L196.5,534.5 L198.5,533.5 L200.5,532.4 L202.5,531.3 L204.5,530.3 L206.5,529.2 L208.5,528.2 L210.5,527.1 L212.5,526.1 L214.5,525.1 L216.5,524 L218.5,523 L220.5,521.9 L222.5,520.9 L224.5,519.9 L226.5,518.9 L228.5,517.8 L230.5,516.8 L232.5,515.8 L234.5,514.8 L236.5,513.8 L238.5,512.8 L240.5,511.8 L242.5,510.8 L244.5,509.8 L246.5,508.8 L248.5,507.9 L250.5,506.9 L252.5,505.9 L254.5,504.9 L256.5,504 L258.5,503 L260.5,502 L262.5,501.1 L264.5,500.1 L266.5,499.1 L268.5,498.2 L270.5,497.2 L272.5,496.2 L274.5,495.3 L276.5,494.3 L278.5,493.3 L280.5,492.4 L282.5,491.4 L284.5,490.4 L286.5,489.5 L288.5,488.5 L290.5,487.5 L292.5,486.6 L294.5,485.6 L296.5,484.7 L298.5,483.7 L300.5,482.8 L302.5,481.8 L304.5,480.9 L306.5,479.9 L308.5,479 L310.5,478 L312.5,477.1 L314.5,476.1 L316.5,475.2 L318.5,474.2 L320.5,473.3 L322.5,472.3 L324.5,471.4 L326.5,470.5 L328.5,469.5 L330.5,468.6 L332.5,467.6 L334.5,466.7 L336.5,465.7 L338.5,464.8 L340.5,463.9 L342.5,462.9 L344.5,462 L346.5,461.1 L348.5,460.1 L350.5,459.2 L352.5,458.3 L354.5,457.3 L356.5,456.4 L358.5,455.4 L360.5,454.5 L362.5,453.6 L364.5,452.6 L366.5,451.7 L368.5,450.8 L370.5,449.8 L372.5,448.9 L374.5,448 L376.5,447 L378.5,446.1 L380.5,445.2 L382.5,444.2 L384.5,443.3 L386.5,442.4 L388.5,441.4 L390.5,440.5 L392.5,439.6 L394.5,438.6 L396.5,437.7 L398.5,436.8 L400.5,435.9 L402.5,435 L404.5,434 L406.5,433.1 L408.5,432.2 L410.5,431.3 L412.5,430.4 L414.5,429.5 L416.5,428.6 L418.5,427.8 L420.5,426.9 L422.5,426 L424.5,425.1 L426.5,424.2 L428.5,423.3 L430.5,422.5 L432.5,421.6 L434.5,420.7 L436.5,419.8 L438.5,418.9 L440.5,418 L442.5,417.1 L444.5,416.3 L446.5,415.4 L448.5,414.5 L450.5,413.6 L452.5,412.7 L454.5,411.8 L456.5,411 L458.5,410.1 L460.5,409.2 L462.5,408.3 L464.5,407.5 L466.5,406.6 L468.5,405.7 L470.5,404.9 L472.5,404 L474.5,403.2 L476.5,402.3 L478.5,401.4 L480.5,400.6 L482.5,399.8 L484.5,398.9 L486.5,398.1 L488.5,397.2 L490.5,396.4 L492.5,395.6 L494.5,394.7 L496.5,393.9 L498.5,393.1 L500.5,392.3 L502.5,391.5 L504.5,390.6 L506.5,389.8 L508.5,389.1 L510.5,388.3 L512.5,387.5 L514.5,386.7 L516.5,385.9 L518.5,385.2 L520.5,384.4 L522.5,383.6 L524.5,382.9 L526.5,382.1 L528.5,381.4 L530.5,380.6 L532.5,379.9 L534.5,379.1 L536.5,378.3 L538.5,377.6 L540.5,376.8 L542.5,376 L544.5,375.2 L546.5,374.4 L548.5,373.7 L550.5,372.9 L552.5,372.1 L554.5,371.3 L556.5,370.5 L558.5,369.7 L560.5,368.9 L562.5,368.1 L564.5,367.3 L566.5,366.5 L568.5,365.7 L570.5,364.9 L572.5,364.1 L574.5,363.4 L576.5,362.6 L578.5,361.8 L580.5,361 L582.5,360.3 L584.5,359.5 L586.5,358.7 L588.5,358 L590.5,357.2 L592.5,356.4 L594.5,355.7 L596.5,354.9 L598.5,354.2 L600.5,353.4 L602.5,352.6 L604.5,351.9 L606.5,351.1 L608.5,350.4 L610.5,349.6 L612.5,348.9 L614.5,348.1 L616.5,347.4 L618.5,346.6 L620.5,345.9 L622.5,345.1 L624.5,344.4 L626.5,343.7 L628.5,342.9 L630.5,342.2 L632.5,341.4 L634.5,340.7 L636.5,339.9 L638.5,339.2 L640.5,338.4 L642.5,337.7 L644.5,336.9 L646.5,336.2 L648.5,335.4 L650.5,334.6 L652.5,333.9 L654.5,333.1 L656.5,332.3 L658.5,331.5 L660.5,330.8 L662.5,330 L664.5,329.2 L666.5,328.4 L668.5,327.6 L670.5,326.8 L672.5,326.1 L674.5,325.3 L676.5,324.5 L678.5,323.7 L680.5,322.9 L682.5,322.1 L684.5,321.3 L686.5,320.5 L688.5,319.7 L690.5,319 L692.5,318.2 L694.5,317.4 L696.5,316.6 L698.5,315.8 L700.5,315 L702.5,314.2 L704.5,313.4 L706.5,312.6 L708.5,311.8 L710.5,311 L712.5,310.2 L714.5,309.4 L716.5,308.6 L718.5,307.8 L720.5,307.1 L722.5,306.3 L724.5,305.5 L726.5,304.7 L728.5,303.9 L730.5,303.1 L732.5,302.3 L734.5,301.5 L736.5,300.7 L738.5,299.9 L740.5,299.1 L742.5,298.3 L744.5,297.5 L746.5,296.7 L748.5,295.9 L750.5,295.1 L752.5,294.3 L754.5,293.4 L756.5,292.6 L758.5,291.8 L760.5,290.9 L762.5,290.1 L764.5,289.3 L766.5,288.4 L768.5,287.6 L770.5,286.7 L772.5,285.8 L774.5,285 L776.5,284.1 L778.5,283.2 L780.5,282.3 L782.5,281.4 L784.5,280.5 L786.5,279.6 L788.5,278.7 L790.5,277.8 L792.5,276.8 L794.5,275.9 L796.5,274.9 L798.5,274 L800.5,273 L802.5,272.1 L804.5,271.1 L806.5,270.1 L808.5,269.1 L810.5,268.2 L812.5,267.2 L814.5,266.2 L816.5,265.1 L818.5,264.1 L820.5,263.1 L822.5,262.1 L824.5,261 L826.5,260 L828.5,258.9 L830.5,257.9 L832.5,256.8 L834.5,255.7 L836.5,254.7 L838.5,253.6 L840.5,252.5 L842.5,251.4 L844.5,250.4 L846.5,249.3 L848.5,248.3 L850.5,247.2 L852.5,246.2 L854.5,245.1 L856.5,244.1 L858.5,243 L860.5,242 L862.5,241 L864.5,240 L866.5,238.9 L868.5,237.9 L870.5,236.9 L872.5,235.8 L874.5,234.8 L876.5,233.7 L878.5,232.7 L880.5,231.6 L882.5,230.6 L884.5,229.5 L886.5,228.4 L888.5,227.3 L890.5,226.2 L892.5,225.1 L894.5,223.9 L896.5,222.8 L898.5,221.6 L900.5,220.5 L902.5,219.3 L904.5,218.2 L906.5,217 L908.5,215.8 L910.5,214.7 L912.5,213.5 L914.5,212.4 L916.5,211.2 L918.5,210.1 L920.5,209 L922.5,207.8 L924.5,206.7 L926.5,205.6 L928.5,204.4 L930.5,203.3 L932.5,202.2 L934.5,201.1 L936.5,199.9 L938.5,198.8 L940.5,197.8 L942.5,196.7 L944.5,195.7 L946.5,194.6 L948.5,193.6 L950.5,192.6 L952.5,191.7 L954.5,190.8 L956.5,189.9 L958.5,189 L960.5,188.1 L962.5,187.3 L964.5,186.5 L966.5,185.7 L968.5,184.9 L970.5,184.1 L972.5,183.3 L974.5,182.5 L976.5,181.8 L978.5,181.1 L980.5,180.3 L982.5,179.6 L984.5,178.9 L986.5,178.1 L988.5,177.4 L990.5,176.7 L992.5,176 L994.5,175.3 L996.5,174.6 L998.5,173.9 L1000.5,173.2 L1002.5,172.5 L1004.5,171.8 L1006.5,171.1 L1008.5,170.5 L1010.5,169.8 L1012.5,169.2 L1014.5,168.5 L1016.5,167.9 L1018.5,167.3 L1020.5,166.7 L1022.5,166.2 L1024.5,165.6 L1026.5,165.1 L1028.5,164.5 L1030.5,164 L1032.5,163.5 L1034.5,163 L1036.5,162.5 L1038.5,162 L1040.5,161.5 L1042.5,161 L1044.5,160.5 L1046.5,160.1 L1048.5,159.6 L1050.5,159.1 L1052.5,158.7 L1054.5,158.3 L1056.5,157.8 L1058.5,157.4 L1060.5,157 L1062.5,156.6 L1064.5,156.1 L1066.5,155.7 L1068.5,155.3 L1070.5,154.9 L1072.5,154.5 L1074.5,154.2 L1076.5,153.8 L1078.5,153.4 L1080.5,153.1 L1082.5,152.7 L1084.5,152.4 L1086.5,152.1 L1088.5,151.8 L1090.5,151.5 L1092.5,151.2 L1094.5,150.9 L1096.5,150.6 L1098.5,150.4 L1100.5,150.1 L1102.5,149.9 L1104.5,149.7 L1106.5,149.4 L1108.5,149.2 L1110.5,149 L1112.5,148.8 L1114.5,148.5 L1116.5,148.3 L1118.5,148.1 L1120.5,147.9 L1122.5,147.7 L1124.5,147.5 L1126.5,147.4 L1128.5,147.2 L1130.5,147 L1132.5,146.8 L1134.5,146.6 L1136.5,146.5 L1138.5,146.3 L1140.5,146.1 L1142.5,146 L1144.5,145.8 L1146.5,145.6 L1148.5,145.5 L1150.5,145.3 L1152.5,145.2 L1154.5,145 L1156.5,144.9 L1158.5,144.8 L1160.5,144.6 L1162.5,144.5 L1164.5,144.4 L1166.5,144.2 L1168.5,144.1 L1170.5,144 L1172.5,143.8 L1174.5,143.7 L1176.5,143.6 L1178.5,143.5 L1180.5,143.4 L1182.5,143.2 L1184.5,143.1 L1186.5,143 L1188.5,142.9 L1190.5,142.8 L1192.5,142.7 L1194.5,142.7 L1196.5,142.6 L1198.5,142.5 L1200.5,142.4 L1202.5,142.3 L1204.5,142.2 L1206.5,142.2 L1208.5,142.1 L1210.5,142 L1212.5,141.9 L1214.5,141.9 L1216.5,141.8 L1218.5,141.7 L1220.5,141.7 L1222.5,141.6 L1224.5,141.5 L1226.5,141.5 L1228.5,141.4 L1230.5,141.3 L1232.5,141.3 L1234.5,141.2 L1236.5,141.2 L1238.5,141.1 L1240.5,141.1 L1242.5,141 L1244.5,141 L1246.5,140.9 L1248.5,140.9 L1250.5,140.8 L1252.5,140.8 L1254.5,140.7 L1256.5,140.7 L1258.5,140.7 L1260.5,140.6 L1262.5,140.6 L1264.5,140.6 L1266.5,140.5 L1268.5,140.5 L1270.5,140.5 L1272.5,140.4 L1274.5,140.4 L1276.5,140.4 L1278.5,140.4 L1280.5,140.3 L1282.5,140.3 L1284.5,140.3 L1286.5,140.3 L1288.5,140.2 L1290.5,140.2 L1292.5,140.2 L1294.5,140.2 L1296.5,140.1 L1298.5,140.1 L1300.5,140.1 L1302.5,140.1 L1304.5,140.1 L1306.5,140 L1308.5,140 L1310.5,140 L1312.5,140 L1314.5,140 L1316.5,139.9 L1318.5,139.9 L1320.5,139.9 L1322.5,139.9 L1324.5,139.9 L1326.5,139.8 L1328.5,139.8 L1329,139.8" stroke="#a6c1dc" stroke-width="1.45" fill="none"/>
<path d="M96.5,607 L98.5,605.8 L100.5,604.6 L102.5,603.4 L104.5,602.2 L106.5,601 L108.5,599.7 L110.5,598.5 L112.5,597.3 L114.5,596.1 L116.5,594.9 L118.5,593.6 L120.5,592.4 L122.5,591.2 L124.5,590 L126.5,588.8 L128.5,587.6 L130.5,586.4 L132.5,585.2 L134.5,584 L136.5,582.8 L138.5,581.6 L140.5,580.4 L142.5,579.2 L144.5,578.1 L146.5,576.9 L148.5,575.7 L150.5,574.5 L152.5,573.4 L154.5,572.2 L156.5,571.1 L158.5,569.9 L160.5,568.8 L162.5,567.6 L164.5,566.5 L166.5,565.3 L168.5,564.2 L170.5,563.1 L172.5,562 L174.5,560.8 L176.5,559.7 L178.5,558.6 L180.5,557.5 L182.5,556.4 L184.5,555.4 L186.5,554.3 L188.5,553.2 L190.5,552.1 L192.5,551.1 L194.5,550 L196.5,548.9 L198.5,547.9 L200.5,546.8 L202.5,545.8 L204.5,544.7 L206.5,543.7 L208.5,542.7 L210.5,541.6 L212.5,540.6 L214.5,539.6 L216.5,538.6 L218.5,537.6 L220.5,536.6 L222.5,535.6 L224.5,534.6 L226.5,533.6 L228.5,532.6 L230.5,531.6 L232.5,530.6 L234.5,529.6 L236.5,528.7 L238.5,527.7 L240.5,526.7 L242.5,525.8 L244.5,524.8 L246.5,523.9 L248.5,522.9 L250.5,522 L252.5,521 L254.5,520.1 L256.5,519.2 L258.5,518.2 L260.5,517.3 L262.5,516.4 L264.5,515.5 L266.5,514.6 L268.5,513.6 L270.5,512.7 L272.5,511.8 L274.5,510.9 L276.5,510 L278.5,509.1 L280.5,508.2 L282.5,507.3 L284.5,506.4 L286.5,505.5 L288.5,504.6 L290.5,503.7 L292.5,502.8 L294.5,501.9 L296.5,501.1 L298.5,500.2 L300.5,499.3 L302.5,498.4 L304.5,497.5 L306.5,496.7 L308.5,495.8 L310.5,494.9 L312.5,494 L314.5,493.2 L316.5,492.3 L318.5,491.4 L320.5,490.5 L322.5,489.7 L324.5,488.8 L326.5,487.9 L328.5,487 L330.5,486.1 L332.5,485.3 L334.5,484.4 L336.5,483.5 L338.5,482.6 L340.5,481.7 L342.5,480.9 L344.5,480 L346.5,479.1 L348.5,478.2 L350.5,477.3 L352.5,476.5 L354.5,475.6 L356.5,474.7 L358.5,473.8 L360.5,472.9 L362.5,472 L364.5,471.1 L366.5,470.2 L368.5,469.3 L370.5,468.4 L372.5,467.5 L374.5,466.6 L376.5,465.7 L378.5,464.8 L380.5,463.9 L382.5,463 L384.5,462 L386.5,461.1 L388.5,460.2 L390.5,459.3 L392.5,458.4 L394.5,457.4 L396.5,456.5 L398.5,455.6 L400.5,454.7 L402.5,453.8 L404.5,452.8 L406.5,451.9 L408.5,451 L410.5,450.1 L412.5,449.2 L414.5,448.3 L416.5,447.4 L418.5,446.5 L420.5,445.6 L422.5,444.7 L424.5,443.8 L426.5,442.9 L428.5,442 L430.5,441.2 L432.5,440.3 L434.5,439.4 L436.5,438.5 L438.5,437.6 L440.5,436.7 L442.5,435.9 L444.5,435 L446.5,434.1 L448.5,433.2 L450.5,432.4 L452.5,431.5 L454.5,430.6 L456.5,429.8 L458.5,428.9 L460.5,428.1 L462.5,427.2 L464.5,426.4 L466.5,425.5 L468.5,424.7 L470.5,423.9 L472.5,423 L474.5,422.2 L476.5,421.4 L478.5,420.6 L480.5,419.8 L482.5,418.9 L484.5,418.1 L486.5,417.3 L488.5,416.5 L490.5,415.7 L492.5,414.9 L494.5,414.1 L496.5,413.4 L498.5,412.6 L500.5,411.8 L502.5,411 L504.5,410.2 L506.5,409.5 L508.5,408.7 L510.5,407.9 L512.5,407.2 L514.5,406.4 L516.5,405.7 L518.5,404.9 L520.5,404.2 L522.5,403.4 L524.5,402.7 L526.5,401.9 L528.5,401.2 L530.5,400.4 L532.5,399.7 L534.5,398.9 L536.5,398.2 L538.5,397.4 L540.5,396.7 L542.5,395.9 L544.5,395.2 L546.5,394.4 L548.5,393.7 L550.5,392.9 L552.5,392.1 L554.5,391.4 L556.5,390.6 L558.5,389.9 L560.5,389.1 L562.5,388.3 L564.5,387.6 L566.5,386.8 L568.5,386 L570.5,385.3 L572.5,384.5 L574.5,383.8 L576.5,383 L578.5,382.3 L580.5,381.5 L582.5,380.7 L584.5,380 L586.5,379.2 L588.5,378.5 L590.5,377.7 L592.5,377 L594.5,376.2 L596.5,375.5 L598.5,374.7 L600.5,374 L602.5,373.3 L604.5,372.5 L606.5,371.8 L608.5,371 L610.5,370.3 L612.5,369.5 L614.5,368.8 L616.5,368.1 L618.5,367.4 L620.5,366.6 L622.5,365.9 L624.5,365.2 L626.5,364.4 L628.5,363.7 L630.5,363 L632.5,362.3 L634.5,361.5 L636.5,360.8 L638.5,360.1 L640.5,359.3 L642.5,358.6 L644.5,357.9 L646.5,357.1 L648.5,356.4 L650.5,355.6 L652.5,354.9 L654.5,354.1 L656.5,353.4 L658.5,352.6 L660.5,351.9 L662.5,351.1 L664.5,350.4 L666.5,349.6 L668.5,348.8 L670.5,348.1 L672.5,347.3 L674.5,346.5 L676.5,345.8 L678.5,345 L680.5,344.2 L682.5,343.5 L684.5,342.7 L686.5,341.9 L688.5,341.2 L690.5,340.4 L692.5,339.6 L694.5,338.8 L696.5,338.1 L698.5,337.3 L700.5,336.5 L702.5,335.8 L704.5,335 L706.5,334.2 L708.5,333.5 L710.5,332.7 L712.5,332 L714.5,331.2 L716.5,330.5 L718.5,329.7 L720.5,329 L722.5,328.2 L724.5,327.5 L726.5,326.7 L728.5,326 L730.5,325.2 L732.5,324.5 L734.5,323.7 L736.5,323 L738.5,322.3 L740.5,321.5 L742.5,320.7 L744.5,320 L746.5,319.2 L748.5,318.5 L750.5,317.7 L752.5,316.9 L754.5,316.2 L756.5,315.4 L758.5,314.6 L760.5,313.9 L762.5,313.1 L764.5,312.3 L766.5,311.5 L768.5,310.7 L770.5,309.9 L772.5,309.1 L774.5,308.3 L776.5,307.5 L778.5,306.7 L780.5,305.8 L782.5,305 L784.5,304.2 L786.5,303.3 L788.5,302.5 L790.5,301.6 L792.5,300.8 L794.5,299.9 L796.5,299 L798.5,298.2 L800.5,297.3 L802.5,296.4 L804.5,295.5 L806.5,294.6 L808.5,293.7 L810.5,292.8 L812.5,291.9 L814.5,290.9 L816.5,290 L818.5,289.1 L820.5,288.1 L822.5,287.2 L824.5,286.2 L826.5,285.3 L828.5,284.3 L830.5,283.3 L832.5,282.3 L834.5,281.4 L836.5,280.4 L838.5,279.4 L840.5,278.4 L842.5,277.4 L844.5,276.5 L846.5,275.5 L848.5,274.5 L850.5,273.6 L852.5,272.6 L854.5,271.6 L856.5,270.6 L858.5,269.7 L860.5,268.7 L862.5,267.8 L864.5,266.8 L866.5,265.8 L868.5,264.9 L870.5,263.9 L872.5,262.9 L874.5,261.9 L876.5,260.9 L878.5,259.9 L880.5,258.9 L882.5,257.9 L884.5,256.9 L886.5,255.8 L888.5,254.8 L890.5,253.7 L892.5,252.6 L894.5,251.5 L896.5,250.4 L898.5,249.3 L900.5,248.1 L902.5,247 L904.5,245.8 L906.5,244.7 L908.5,243.5 L910.5,242.4 L912.5,241.2 L914.5,240.1 L916.5,238.9 L918.5,237.7 L920.5,236.6 L922.5,235.4 L924.5,234.3 L926.5,233.1 L928.5,232 L930.5,230.9 L932.5,229.7 L934.5,228.6 L936.5,227.5 L938.5,226.3 L940.5,225.2 L942.5,224.2 L944.5,223.1 L946.5,222 L948.5,221 L950.5,220 L952.5,219 L954.5,218 L956.5,217.1 L958.5,216.2 L960.5,215.3 L962.5,214.4 L964.5,213.5 L966.5,212.7 L968.5,211.8 L970.5,211 L972.5,210.2 L974.5,209.4 L976.5,208.6 L978.5,207.8 L980.5,207 L982.5,206.3 L984.5,205.5 L986.5,204.7 L988.5,204 L990.5,203.2 L992.5,202.5 L994.5,201.7 L996.5,201 L998.5,200.3 L1000.5,199.6 L1002.5,198.8 L1004.5,198.1 L1006.5,197.4 L1008.5,196.8 L1010.5,196.1 L1012.5,195.4 L1014.5,194.7 L1016.5,194.1 L1018.5,193.4 L1020.5,192.8 L1022.5,192.1 L1024.5,191.5 L1026.5,190.9 L1028.5,190.2 L1030.5,189.6 L1032.5,189 L1034.5,188.4 L1036.5,187.8 L1038.5,187.2 L1040.5,186.6 L1042.5,186.1 L1044.5,185.5 L1046.5,184.9 L1048.5,184.4 L1050.5,183.8 L1052.5,183.3 L1054.5,182.8 L1056.5,182.2 L1058.5,181.7 L1060.5,181.2 L1062.5,180.8 L1064.5,180.3 L1066.5,179.8 L1068.5,179.3 L1070.5,178.9 L1072.5,178.4 L1074.5,178 L1076.5,177.5 L1078.5,177.1 L1080.5,176.7 L1082.5,176.3 L1084.5,175.9 L1086.5,175.5 L1088.5,175.1 L1090.5,174.7 L1092.5,174.4 L1094.5,174 L1096.5,173.7 L1098.5,173.3 L1100.5,173 L1102.5,172.7 L1104.5,172.4 L1106.5,172.1 L1108.5,171.8 L1110.5,171.5 L1112.5,171.2 L1114.5,170.9 L1116.5,170.6 L1118.5,170.4 L1120.5,170.1 L1122.5,169.8 L1124.5,169.6 L1126.5,169.3 L1128.5,169.1 L1130.5,168.9 L1132.5,168.6 L1134.5,168.4 L1136.5,168.2 L1138.5,168 L1140.5,167.8 L1142.5,167.6 L1144.5,167.4 L1146.5,167.2 L1148.5,167 L1150.5,166.8 L1152.5,166.6 L1154.5,166.5 L1156.5,166.3 L1158.5,166.1 L1160.5,166 L1162.5,165.8 L1164.5,165.6 L1166.5,165.5 L1168.5,165.3 L1170.5,165.2 L1172.5,165 L1174.5,164.9 L1176.5,164.7 L1178.5,164.6 L1180.5,164.4 L1182.5,164.3 L1184.5,164.2 L1186.5,164 L1188.5,163.9 L1190.5,163.8 L1192.5,163.7 L1194.5,163.6 L1196.5,163.5 L1198.5,163.3 L1200.5,163.2 L1202.5,163.1 L1204.5,163 L1206.5,162.9 L1208.5,162.8 L1210.5,162.7 L1212.5,162.6 L1214.5,162.5 L1216.5,162.4 L1218.5,162.3 L1220.5,162.3 L1222.5,162.2 L1224.5,162.1 L1226.5,162 L1228.5,161.9 L1230.5,161.8 L1232.5,161.7 L1234.5,161.7 L1236.5,161.6 L1238.5,161.5 L1240.5,161.5 L1242.5,161.4 L1244.5,161.3 L1246.5,161.3 L1248.5,161.2 L1250.5,161.2 L1252.5,161.1 L1254.5,161.1 L1256.5,161 L1258.5,161 L1260.5,161 L1262.5,160.9 L1264.5,160.9 L1266.5,160.9 L1268.5,160.8 L1270.5,160.8 L1272.5,160.8 L1274.5,160.7 L1276.5,160.7 L1278.5,160.7 L1280.5,160.7 L1282.5,160.7 L1284.5,160.6 L1286.5,160.6 L1288.5,160.6 L1290.5,160.6 L1292.5,160.6 L1294.5,160.6 L1296.5,160.5 L1298.5,160.5 L1300.5,160.5 L1302.5,160.5 L1304.5,160.5 L1306.5,160.5 L1308.5,160.5 L1310.5,160.4 L1312.5,160.4 L1314.5,160.4 L1316.5,160.4 L1318.5,160.4 L1320.5,160.4 L1322.5,160.4 L1324.5,160.3 L1326.5,160.3 L1328.5,160.3 L1329,160.3" stroke="#a6c1dc" stroke-width="1.45" fill="none"/>
<path d="M96.5,620.7 L98.5,619.5 L100.5,618.4 L102.5,617.2 L104.5,616.1 L106.5,614.9 L108.5,613.7 L110.5,612.6 L112.5,611.4 L114.5,610.3 L116.5,609.1 L118.5,607.9 L120.5,606.8 L122.5,605.6 L124.5,604.4 L126.5,603.2 L128.5,602.1 L130.5,600.9 L132.5,599.7 L134.5,598.6 L136.5,597.4 L138.5,596.2 L140.5,595 L142.5,593.9 L144.5,592.7 L146.5,591.5 L148.5,590.4 L150.5,589.2 L152.5,588 L154.5,586.9 L156.5,585.7 L158.5,584.6 L160.5,583.4 L162.5,582.3 L164.5,581.1 L166.5,580 L168.5,578.8 L170.5,577.7 L172.5,576.5 L174.5,575.4 L176.5,574.3 L178.5,573.2 L180.5,572 L182.5,570.9 L184.5,569.8 L186.5,568.7 L188.5,567.6 L190.5,566.6 L192.5,565.5 L194.5,564.4 L196.5,563.3 L198.5,562.3 L200.5,561.2 L202.5,560.2 L204.5,559.2 L206.5,558.2 L208.5,557.1 L210.5,556.1 L212.5,555.1 L214.5,554.2 L216.5,553.2 L218.5,552.2 L220.5,551.2 L222.5,550.2 L224.5,549.3 L226.5,548.3 L228.5,547.3 L230.5,546.4 L232.5,545.4 L234.5,544.5 L236.5,543.5 L238.5,542.6 L240.5,541.7 L242.5,540.7 L244.5,539.8 L246.5,538.9 L248.5,538 L250.5,537.1 L252.5,536.2 L254.5,535.3 L256.5,534.4 L258.5,533.5 L260.5,532.6 L262.5,531.7 L264.5,530.8 L266.5,530 L268.5,529.1 L270.5,528.3 L272.5,527.4 L274.5,526.5 L276.5,525.7 L278.5,524.9 L280.5,524 L282.5,523.2 L284.5,522.4 L286.5,521.5 L288.5,520.7 L290.5,519.9 L292.5,519.1 L294.5,518.3 L296.5,517.5 L298.5,516.7 L300.5,515.8 L302.5,515 L304.5,514.2 L306.5,513.4 L308.5,512.6 L310.5,511.8 L312.5,511 L314.5,510.2 L316.5,509.4 L318.5,508.6 L320.5,507.8 L322.5,507 L324.5,506.1 L326.5,505.3 L328.5,504.5 L330.5,503.7 L332.5,502.9 L334.5,502.1 L336.5,501.3 L338.5,500.4 L340.5,499.6 L342.5,498.8 L344.5,498 L346.5,497.2 L348.5,496.3 L350.5,495.5 L352.5,494.7 L354.5,493.8 L356.5,493 L358.5,492.2 L360.5,491.3 L362.5,490.5 L364.5,489.6 L366.5,488.7 L368.5,487.9 L370.5,487 L372.5,486.1 L374.5,485.3 L376.5,484.4 L378.5,483.5 L380.5,482.6 L382.5,481.7 L384.5,480.8 L386.5,479.9 L388.5,479 L390.5,478.1 L392.5,477.1 L394.5,476.2 L396.5,475.3 L398.5,474.4 L400.5,473.5 L402.5,472.5 L404.5,471.6 L406.5,470.7 L408.5,469.8 L410.5,468.9 L412.5,468 L414.5,467.1 L416.5,466.2 L418.5,465.3 L420.5,464.4 L422.5,463.5 L424.5,462.6 L426.5,461.7 L428.5,460.8 L430.5,459.9 L432.5,459 L434.5,458.1 L436.5,457.2 L438.5,456.3 L440.5,455.5 L442.5,454.6 L444.5,453.7 L446.5,452.9 L448.5,452 L450.5,451.1 L452.5,450.3 L454.5,449.4 L456.5,448.6 L458.5,447.8 L460.5,446.9 L462.5,446.1 L464.5,445.3 L466.5,444.5 L468.5,443.7 L470.5,442.9 L472.5,442.1 L474.5,441.3 L476.5,440.5 L478.5,439.7 L480.5,438.9 L482.5,438.1 L484.5,437.4 L486.5,436.6 L488.5,435.8 L490.5,435.1 L492.5,434.3 L494.5,433.6 L496.5,432.8 L498.5,432.1 L500.5,431.3 L502.5,430.6 L504.5,429.8 L506.5,429.1 L508.5,428.4 L510.5,427.6 L512.5,426.9 L514.5,426.1 L516.5,425.4 L518.5,424.7 L520.5,423.9 L522.5,423.2 L524.5,422.5 L526.5,421.7 L528.5,421 L530.5,420.3 L532.5,419.5 L534.5,418.8 L536.5,418.1 L538.5,417.3 L540.5,416.6 L542.5,415.9 L544.5,415.1 L546.5,414.4 L548.5,413.7 L550.5,412.9 L552.5,412.2 L554.5,411.5 L556.5,410.8 L558.5,410 L560.5,409.3 L562.5,408.6 L564.5,407.8 L566.5,407.1 L568.5,406.4 L570.5,405.6 L572.5,404.9 L574.5,404.2 L576.5,403.4 L578.5,402.7 L580.5,402 L582.5,401.2 L584.5,400.5 L586.5,399.7 L588.5,399 L590.5,398.3 L592.5,397.5 L594.5,396.8 L596.5,396.1 L598.5,395.3 L600.5,394.6 L602.5,393.9 L604.5,393.1 L606.5,392.4 L608.5,391.7 L610.5,391 L612.5,390.2 L614.5,389.5 L616.5,388.8 L618.5,388.1 L620.5,387.4 L622.5,386.7 L624.5,386 L626.5,385.2 L628.5,384.5 L630.5,383.8 L632.5,383.1 L634.5,382.4 L636.5,381.7 L638.5,381 L640.5,380.2 L642.5,379.5 L644.5,378.8 L646.5,378.1 L648.5,377.3 L650.5,376.6 L652.5,375.9 L654.5,375.2 L656.5,374.4 L658.5,373.7 L660.5,373 L662.5,372.2 L664.5,371.5 L666.5,370.8 L668.5,370 L670.5,369.3 L672.5,368.6 L674.5,367.8 L676.5,367.1 L678.5,366.3 L680.5,365.6 L682.5,364.8 L684.5,364.1 L686.5,363.3 L688.5,362.6 L690.5,361.8 L692.5,361.1 L694.5,360.3 L696.5,359.6 L698.5,358.8 L700.5,358.1 L702.5,357.4 L704.5,356.6 L706.5,355.9 L708.5,355.2 L710.5,354.4 L712.5,353.7 L714.5,353 L716.5,352.3 L718.5,351.6 L720.5,350.9 L722.5,350.1 L724.5,349.4 L726.5,348.7 L728.5,348 L730.5,347.3 L732.5,346.7 L734.5,346 L736.5,345.3 L738.5,344.6 L740.5,343.9 L742.5,343.2 L744.5,342.5 L746.5,341.8 L748.5,341.1 L750.5,340.4 L752.5,339.6 L754.5,338.9 L756.5,338.2 L758.5,337.5 L760.5,336.8 L762.5,336.1 L764.5,335.3 L766.5,334.6 L768.5,333.9 L770.5,333.1 L772.5,332.4 L774.5,331.6 L776.5,330.9 L778.5,330.1 L780.5,329.4 L782.5,328.6 L784.5,327.8 L786.5,327.1 L788.5,326.3 L790.5,325.5 L792.5,324.7 L794.5,323.9 L796.5,323.1 L798.5,322.3 L800.5,321.5 L802.5,320.7 L804.5,319.9 L806.5,319.1 L808.5,318.2 L810.5,317.4 L812.5,316.6 L814.5,315.7 L816.5,314.8 L818.5,314 L820.5,313.1 L822.5,312.3 L824.5,311.4 L826.5,310.5 L828.5,309.6 L830.5,308.8 L832.5,307.9 L834.5,307 L836.5,306.1 L838.5,305.2 L840.5,304.3 L842.5,303.4 L844.5,302.5 L846.5,301.7 L848.5,300.8 L850.5,299.9 L852.5,299 L854.5,298.1 L856.5,297.2 L858.5,296.3 L860.5,295.4 L862.5,294.5 L864.5,293.6 L866.5,292.7 L868.5,291.8 L870.5,290.9 L872.5,290 L874.5,289.1 L876.5,288.1 L878.5,287.2 L880.5,286.2 L882.5,285.3 L884.5,284.3 L886.5,283.3 L888.5,282.2 L890.5,281.2 L892.5,280.1 L894.5,279.1 L896.5,278 L898.5,276.9 L900.5,275.8 L902.5,274.6 L904.5,273.5 L906.5,272.4 L908.5,271.2 L910.5,270.1 L912.5,268.9 L914.5,267.7 L916.5,266.6 L918.5,265.4 L920.5,264.2 L922.5,263.1 L924.5,261.9 L926.5,260.7 L928.5,259.6 L930.5,258.4 L932.5,257.3 L934.5,256.1 L936.5,255 L938.5,253.8 L940.5,252.7 L942.5,251.6 L944.5,250.5 L946.5,249.4 L948.5,248.4 L950.5,247.3 L952.5,246.3 L954.5,245.3 L956.5,244.3 L958.5,243.4 L960.5,242.4 L962.5,241.5 L964.5,240.6 L966.5,239.7 L968.5,238.8 L970.5,237.9 L972.5,237.1 L974.5,236.2 L976.5,235.4 L978.5,234.6 L980.5,233.7 L982.5,232.9 L984.5,232.1 L986.5,231.3 L988.5,230.5 L990.5,229.8 L992.5,229 L994.5,228.2 L996.5,227.5 L998.5,226.7 L1000.5,225.9 L1002.5,225.2 L1004.5,224.5 L1006.5,223.8 L1008.5,223 L1010.5,222.3 L1012.5,221.6 L1014.5,220.9 L1016.5,220.2 L1018.5,219.5 L1020.5,218.8 L1022.5,218.1 L1024.5,217.4 L1026.5,216.7 L1028.5,216 L1030.5,215.2 L1032.5,214.5 L1034.5,213.8 L1036.5,213.2 L1038.5,212.5 L1040.5,211.8 L1042.5,211.1 L1044.5,210.5 L1046.5,209.8 L1048.5,209.2 L1050.5,208.5 L1052.5,207.9 L1054.5,207.3 L1056.5,206.7 L1058.5,206.1 L1060.5,205.5 L1062.5,204.9 L1064.5,204.4 L1066.5,203.9 L1068.5,203.3 L1070.5,202.8 L1072.5,202.3 L1074.5,201.8 L1076.5,201.3 L1078.5,200.8 L1080.5,200.3 L1082.5,199.8 L1084.5,199.4 L1086.5,198.9 L1088.5,198.5 L1090.5,198 L1092.5,197.6 L1094.5,197.1 L1096.5,196.7 L1098.5,196.3 L1100.5,195.9 L1102.5,195.5 L1104.5,195.1 L1106.5,194.7 L1108.5,194.3 L1110.5,194 L1112.5,193.6 L1114.5,193.3 L1116.5,192.9 L1118.5,192.6 L1120.5,192.3 L1122.5,191.9 L1124.5,191.6 L1126.5,191.3 L1128.5,191 L1130.5,190.8 L1132.5,190.5 L1134.5,190.2 L1136.5,190 L1138.5,189.7 L1140.5,189.5 L1142.5,189.2 L1144.5,189 L1146.5,188.8 L1148.5,188.5 L1150.5,188.3 L1152.5,188.1 L1154.5,187.9 L1156.5,187.7 L1158.5,187.5 L1160.5,187.3 L1162.5,187.1 L1164.5,186.9 L1166.5,186.7 L1168.5,186.5 L1170.5,186.4 L1172.5,186.2 L1174.5,186 L1176.5,185.8 L1178.5,185.7 L1180.5,185.5 L1182.5,185.4 L1184.5,185.2 L1186.5,185.1 L1188.5,184.9 L1190.5,184.8 L1192.5,184.6 L1194.5,184.5 L1196.5,184.3 L1198.5,184.2 L1200.5,184.1 L1202.5,183.9 L1204.5,183.8 L1206.5,183.7 L1208.5,183.6 L1210.5,183.4 L1212.5,183.3 L1214.5,183.2 L1216.5,183.1 L1218.5,183 L1220.5,182.8 L1222.5,182.7 L1224.5,182.6 L1226.5,182.5 L1228.5,182.4 L1230.5,182.3 L1232.5,182.2 L1234.5,182.1 L1236.5,182 L1238.5,181.9 L1240.5,181.9 L1242.5,181.8 L1244.5,181.7 L1246.5,181.6 L1248.5,181.6 L1250.5,181.5 L1252.5,181.5 L1254.5,181.4 L1256.5,181.4 L1258.5,181.3 L1260.5,181.3 L1262.5,181.2 L1264.5,181.2 L1266.5,181.2 L1268.5,181.1 L1270.5,181.1 L1272.5,181.1 L1274.5,181.1 L1276.5,181.1 L1278.5,181 L1280.5,181 L1282.5,181 L1284.5,181 L1286.5,181 L1288.5,181 L1290.5,181 L1292.5,180.9 L1294.5,180.9 L1296.5,180.9 L1298.5,180.9 L1300.5,180.9 L1302.5,180.9 L1304.5,180.9 L1306.5,180.9 L1308.5,180.9 L1310.5,180.9 L1312.5,180.9 L1314.5,180.9 L1316.5,180.9 L1318.5,180.8 L1320.5,180.8 L1322.5,180.8 L1324.5,180.8 L1326.5,180.8 L1328.5,180.8 L1329,180.8" stroke="#a6c1dc" stroke-width="1.45" fill="none"/>
<path d="M97.8,581.7 L99.8,580.4 L101.8,579.1 L103.8,577.7 L105.8,576.4 L107.8,575.1 L109.8,573.7 L111.8,572.4 L113.8,571 L115.8,569.7 L117.8,568.4 L119.8,567.1 L121.8,565.8 L123.8,564.5 L125.8,563.2 L127.8,561.9 L129.8,560.6 L131.8,559.4 L133.8,558.1 L135.8,556.9 L137.8,555.7 L139.7,554.5 L141.7,553.2 L143.7,552 L145.7,550.8 L147.7,549.7 L149.7,548.5 L151.7,547.3 L153.7,546.1 L155.7,545 L157.7,543.8 L159.7,542.7 L161.7,541.5 L163.7,540.4 L165.7,539.3 L167.7,538.2 L169.7,537.1 L171.7,536 L173.6,534.9 L175.6,533.8 L177.6,532.7 L179.6,531.7 L181.6,530.6 L183.6,529.6 L185.6,528.5 L187.6,527.5 L189.6,526.4 L191.6,525.4 L193.6,524.3 L195.6,523.3 L197.6,522.2 L199.6,521.2 L201.6,520.1 L203.6,519 L205.6,518 L207.6,516.9 L209.6,515.8 L211.6,514.8 L213.6,513.7 L215.6,512.6 L217.6,511.6 L219.6,510.5 L221.6,509.4 L223.6,508.4 L225.6,507.3 L227.6,506.3 L229.6,505.2 L231.6,504.2 L233.6,503.1 L235.6,502.1 L237.6,501 L239.6,500 L241.6,499 L243.6,498 L245.6,497 L247.6,496 L249.6,494.9 L251.6,493.9 L253.6,492.9 L255.6,491.9 L257.6,490.9 L259.6,489.9 L261.6,488.9 L263.6,487.9 L265.6,486.9 L267.6,485.8 L269.6,484.8 L271.6,483.8 L273.6,482.8 L275.6,481.8 L277.6,480.7 L279.6,479.7 L281.6,478.7 L283.6,477.6 L285.6,476.6 L287.6,475.6 L289.6,474.5 L291.6,473.5 L293.6,472.5 L295.6,471.4 L297.6,470.4 L299.6,469.4 L301.6,468.4 L303.6,467.3 L305.6,466.3 L307.6,465.3 L309.6,464.3 L311.6,463.3 L313.6,462.2 L315.6,461.2 L317.6,460.2 L319.6,459.2 L321.6,458.2 L323.6,457.2 L325.6,456.2 L327.6,455.2 L329.6,454.2 L331.6,453.2 L333.6,452.1 L335.6,451.1 L337.6,450.1 L339.6,449.1 L341.6,448.2 L343.6,447.2 L345.6,446.2 L347.6,445.2 L349.6,444.2 L351.6,443.2 L353.6,442.2 L355.6,441.2 L357.6,440.2 L359.6,439.2 L361.6,438.3 L363.6,437.3 L365.5,436.3 L367.5,435.3 L369.5,434.4 L371.5,433.4 L373.5,432.5 L375.5,431.5 L377.5,430.5 L379.5,429.6 L381.5,428.6 L383.5,427.7 L385.5,426.7 L387.5,425.8 L389.5,424.8 L391.5,423.9 L393.5,423 L395.5,422 L397.5,421.1 L399.5,420.2 L401.5,419.3 L403.5,418.3 L405.5,417.4 L407.5,416.5 L409.5,415.6 L411.5,414.7 L413.5,413.8 L415.5,413 L417.5,412.1 L419.5,411.2 L421.5,410.3 L423.5,409.4 L425.5,408.6 L427.5,407.7 L429.5,406.8 L431.5,405.9 L433.5,405.1 L435.5,404.2 L437.5,403.3 L439.5,402.4 L441.5,401.5 L443.5,400.6 L445.5,399.7 L447.5,398.8 L449.5,397.9 L451.5,397 L453.5,396.1 L455.5,395.2 L457.5,394.3 L459.5,393.4 L461.5,392.5 L463.5,391.6 L465.5,390.7 L467.5,389.8 L469.5,388.9 L471.5,388.1 L473.5,387.2 L475.5,386.3 L477.5,385.4 L479.5,384.5 L481.5,383.6 L483.5,382.8 L485.5,381.9 L487.5,381 L489.5,380.1 L491.5,379.2 L493.5,378.4 L495.5,377.5 L497.4,376.6 L499.4,375.8 L501.4,374.9 L503.4,374.1 L505.4,373.3 L507.4,372.4 L509.4,371.6 L511.4,370.8 L513.4,370 L515.4,369.2 L517.4,368.4 L519.4,367.7 L521.4,366.9 L523.4,366.1 L525.4,365.3 L527.4,364.6 L529.4,363.8 L531.4,363 L533.4,362.2 L535.4,361.5 L537.4,360.7 L539.4,359.9 L541.4,359.1 L543.4,358.3 L545.4,357.5 L547.4,356.7 L549.4,355.9 L551.4,355 L553.4,354.2 L555.4,353.4 L557.4,352.6 L559.4,351.7 L561.4,350.9 L563.4,350.1 L565.4,349.3 L567.4,348.4 L569.4,347.6 L571.4,346.8 L573.4,346 L575.4,345.2 L577.4,344.4 L579.4,343.6 L581.4,342.8 L583.4,342 L585.4,341.2 L587.4,340.5 L589.4,339.7 L591.4,338.9 L593.4,338.1 L595.4,337.3 L597.4,336.6 L599.4,335.8 L601.4,335 L603.4,334.3 L605.4,333.5 L607.4,332.7 L609.4,331.9 L611.4,331.2 L613.4,330.4 L615.4,329.6 L617.4,328.9 L619.4,328.1 L621.4,327.4 L623.3,326.6 L625.3,325.9 L627.3,325.1 L629.3,324.3 L631.4,323.6 L633.4,322.8 L635.4,322.1 L637.4,321.3 L639.4,320.5 L641.4,319.8 L643.4,319 L645.4,318.2 L647.4,317.4 L649.4,316.7 L651.4,315.9 L653.4,315.1 L655.4,314.3 L657.4,313.5 L659.4,312.7 L661.4,311.9 L663.4,311.1 L665.4,310.3 L667.4,309.5 L669.4,308.7 L671.4,307.9 L673.4,307 L675.4,306.2 L677.4,305.4 L679.4,304.6 L681.4,303.8 L683.4,303 L685.4,302.2 L687.4,301.4 L689.4,300.6 L691.4,299.7 L693.4,298.9 L695.4,298.1 L697.4,297.3 L699.4,296.5 L701.4,295.6 L703.4,294.8 L705.4,294 L707.4,293.2 L709.4,292.3 L711.4,291.5 L713.4,290.7 L715.4,289.9 L717.4,289 L719.4,288.2 L721.4,287.4 L723.4,286.5 L725.4,285.7 L727.4,284.9 L729.4,284 L731.4,283.2 L733.4,282.4 L735.4,281.5 L737.4,280.7 L739.4,279.8 L741.4,279 L743.4,278.1 L745.5,277.2 L747.5,276.4 L749.5,275.5 L751.5,274.6 L753.5,273.7 L755.5,272.9 L757.5,272 L759.5,271.1 L761.5,270.2 L763.5,269.3 L765.5,268.4 L767.5,267.5 L769.5,266.6 L771.5,265.7 L773.5,264.7 L775.5,263.8 L777.5,262.9 L779.5,261.9 L781.5,261 L783.5,260 L785.5,259 L787.6,258 L789.6,257 L791.6,256 L793.6,255 L795.6,254 L797.6,253 L799.6,252 L801.6,250.9 L803.6,249.9 L805.6,248.8 L807.6,247.8 L809.6,246.7 L811.6,245.6 L813.6,244.6 L815.6,243.5 L817.6,242.4 L819.7,241.3 L821.7,240.2 L823.7,239.1 L825.7,237.9 L827.7,236.8 L829.7,235.6 L831.7,234.5 L833.7,233.3 L835.7,232.2 L837.7,231 L839.7,229.8 L841.7,228.7 L843.7,227.5 L845.7,226.4 L847.7,225.2 L849.7,224.1 L851.7,223 L853.7,221.8 L855.7,220.7 L857.7,219.6 L859.7,218.5 L861.7,217.4 L863.7,216.3 L865.7,215.2 L867.7,214.1 L869.7,213 L871.7,211.9 L873.7,210.9 L875.7,209.8 L877.7,208.7 L879.7,207.5 L881.7,206.4 L883.7,205.3 L885.7,204.2 L887.7,203.1 L889.7,201.9 L891.7,200.8 L893.7,199.6 L895.7,198.4 L897.7,197.3 L899.7,196.1 L901.7,194.9 L903.7,193.7 L905.7,192.6 L907.7,191.4 L909.7,190.2 L911.7,189.1 L913.7,187.9 L915.7,186.8 L917.7,185.6 L919.7,184.5 L921.6,183.4 L923.6,182.3 L925.6,181.1 L927.6,180 L929.6,178.9 L931.6,177.8 L933.6,176.7 L935.6,175.6 L937.6,174.5 L939.6,173.4 L941.6,172.3 L943.6,171.3 L945.5,170.3 L947.5,169.3 L949.5,168.3 L951.5,167.4 L953.4,166.5 L955.4,165.6 L957.4,164.8 L959.4,163.9 L961.4,163.1 L963.3,162.3 L965.3,161.5 L967.3,160.8 L969.3,160 L971.3,159.3 L973.3,158.5 L975.3,157.8 L977.2,157.1 L979.2,156.4 L981.2,155.7 L983.2,155 L985.2,154.3 L987.2,153.7 L989.2,153 L991.2,152.3 L993.2,151.6 L995.2,150.9 L997.2,150.2 L999.2,149.5 L1001.2,148.9 L1003.2,148.2 L1005.2,147.5 L1007.2,146.9 L1009.2,146.3 L1011.1,145.6 L1013.1,145 L1015.1,144.5 L1017.1,143.9 L1019.1,143.3 L1021,142.8 L1023,142.3 L1025,141.8 L1027,141.4 L1029,140.9 L1031,140.5 L1032.9,140 L1034.9,139.6 L1036.9,139.2 L1038.9,138.8 L1040.9,138.4 L1042.9,138 L1044.9,137.6 L1046.9,137.3 L1048.9,136.9 L1050.9,136.5 L1052.9,136.2 L1054.9,135.8 L1056.9,135.5 L1058.9,135.1 L1060.9,134.8 L1062.9,134.4 L1064.9,134.1 L1066.8,133.7 L1068.8,133.4 L1070.8,133 L1072.8,132.7 L1074.8,132.4 L1076.8,132.1 L1078.8,131.8 L1080.8,131.5 L1082.8,131.2 L1084.8,130.9 L1086.7,130.7 L1088.7,130.4 L1090.7,130.2 L1092.7,130 L1094.7,129.8 L1096.7,129.6 L1098.7,129.4 L1100.7,129.3 L1102.7,129.1 L1104.7,128.9 L1106.7,128.8 L1108.6,128.6 L1110.6,128.5 L1112.6,128.3 L1114.6,128.2 L1116.6,128 L1118.6,127.9 L1120.6,127.8 L1122.6,127.6 L1124.6,127.5 L1126.6,127.4 L1128.6,127.2 L1130.6,127.1 L1132.6,127 L1134.6,126.8 L1136.6,126.7 L1138.6,126.6 L1140.6,126.4 L1142.6,126.3 L1144.6,126.2 L1146.6,126.1 L1148.6,126 L1150.6,125.8 L1152.6,125.7 L1154.6,125.6 L1156.6,125.5 L1158.6,125.4 L1160.6,125.3 L1162.6,125.2 L1164.6,125.1 L1166.6,125 L1168.6,124.9 L1170.6,124.8 L1172.6,124.7 L1174.6,124.6 L1176.6,124.5 L1178.6,124.4 L1180.6,124.3 L1182.6,124.2 L1184.6,124.1 L1186.6,124 L1188.6,123.9 L1190.6,123.9 L1192.6,123.8 L1194.6,123.7 L1196.6,123.7 L1198.6,123.6 L1200.6,123.6 L1202.6,123.5 L1204.6,123.5 L1206.6,123.4 L1208.6,123.4 L1210.5,123.3 L1212.5,123.3 L1214.5,123.2 L1216.5,123.2 L1218.5,123.1 L1220.5,123.1 L1222.5,123 L1224.5,123 L1226.5,122.9 L1228.5,122.9 L1230.5,122.9 L1232.5,122.8 L1234.5,122.8 L1236.5,122.7 L1238.5,122.7 L1240.5,122.7 L1242.5,122.6 L1244.5,122.6 L1246.5,122.6 L1248.5,122.5 L1250.5,122.5 L1252.5,122.4 L1254.5,122.4 L1256.5,122.4 L1258.5,122.3 L1260.5,122.3 L1262.5,122.3 L1264.5,122.2 L1266.5,122.2 L1268.5,122.2 L1270.5,122.1 L1272.5,122.1 L1274.5,122.1 L1276.5,122 L1278.5,122 L1280.5,122 L1282.5,122 L1284.5,121.9 L1286.5,121.9 L1288.5,121.9 L1290.5,121.8 L1292.5,121.8 L1294.5,121.8 L1296.5,121.8 L1298.5,121.7 L1300.5,121.7 L1302.5,121.7 L1304.5,121.6 L1306.5,121.6 L1308.5,121.6 L1310.5,121.6 L1312.5,121.5 L1314.5,121.5 L1316.5,121.5 L1318.5,121.5 L1320.5,121.4 L1322.5,121.4 L1324.5,121.4 L1326.5,121.3 L1328.5,121.3 L1329,121.3 L1329,117.3 L1328.5,117.3 L1326.5,117.3 L1324.5,117.4 L1322.5,117.4 L1320.5,117.4 L1318.5,117.5 L1316.5,117.5 L1314.5,117.5 L1312.5,117.5 L1310.5,117.6 L1308.5,117.6 L1306.5,117.6 L1304.5,117.6 L1302.5,117.7 L1300.5,117.7 L1298.5,117.7 L1296.5,117.8 L1294.5,117.8 L1292.5,117.8 L1290.5,117.8 L1288.5,117.9 L1286.5,117.9 L1284.5,117.9 L1282.5,118 L1280.5,118 L1278.5,118 L1276.5,118 L1274.5,118.1 L1272.5,118.1 L1270.5,118.1 L1268.5,118.2 L1266.5,118.2 L1264.5,118.2 L1262.5,118.3 L1260.5,118.3 L1258.5,118.3 L1256.5,118.4 L1254.5,118.4 L1252.5,118.5 L1250.5,118.5 L1248.5,118.5 L1246.5,118.6 L1244.5,118.6 L1242.5,118.6 L1240.5,118.7 L1238.5,118.7 L1236.5,118.7 L1234.5,118.8 L1232.5,118.8 L1230.5,118.9 L1228.5,118.9 L1226.5,118.9 L1224.5,119 L1222.5,119 L1220.5,119.1 L1218.5,119.1 L1216.5,119.2 L1214.5,119.2 L1212.5,119.3 L1210.5,119.3 L1208.4,119.4 L1206.4,119.4 L1204.4,119.5 L1202.4,119.5 L1200.4,119.6 L1198.4,119.6 L1196.4,119.7 L1194.4,119.7 L1192.4,119.8 L1190.4,119.9 L1188.4,119.9 L1186.4,120 L1184.4,120.1 L1182.4,120.2 L1180.4,120.3 L1178.4,120.4 L1176.4,120.5 L1174.4,120.6 L1172.4,120.7 L1170.4,120.8 L1168.4,120.9 L1166.4,121 L1164.4,121.1 L1162.4,121.2 L1160.4,121.3 L1158.4,121.4 L1156.4,121.5 L1154.4,121.6 L1152.4,121.7 L1150.4,121.9 L1148.4,122 L1146.4,122.1 L1144.4,122.2 L1142.4,122.3 L1140.4,122.5 L1138.4,122.6 L1136.4,122.7 L1134.4,122.8 L1132.4,123 L1130.4,123.1 L1128.4,123.2 L1126.4,123.4 L1124.4,123.5 L1122.4,123.6 L1120.4,123.8 L1118.4,123.9 L1116.4,124.1 L1114.4,124.2 L1112.4,124.3 L1110.4,124.5 L1108.4,124.6 L1106.3,124.8 L1104.3,124.9 L1102.3,125.1 L1100.3,125.3 L1098.3,125.4 L1096.3,125.6 L1094.3,125.8 L1092.3,126 L1090.3,126.2 L1088.3,126.4 L1086.3,126.6 L1084.2,126.9 L1082.2,127.2 L1080.2,127.4 L1078.2,127.7 L1076.2,128 L1074.2,128.3 L1072.2,128.6 L1070.2,129 L1068.2,129.3 L1066.2,129.6 L1064.1,130 L1062.1,130.3 L1060.1,130.7 L1058.1,131 L1056.1,131.3 L1054.1,131.7 L1052.1,132 L1050.1,132.4 L1048.1,132.7 L1046.1,133.1 L1044.1,133.5 L1042.1,133.9 L1040.1,134.2 L1038.1,134.6 L1036.1,135 L1034.1,135.4 L1032.1,135.8 L1030,136.3 L1028,136.7 L1026,137.2 L1024,137.6 L1022,138.1 L1020,138.6 L1017.9,139.2 L1015.9,139.7 L1013.9,140.3 L1011.9,140.9 L1009.9,141.5 L1007.8,142.1 L1005.8,142.7 L1003.8,143.4 L1001.8,144 L999.8,144.7 L997.8,145.4 L995.8,146 L993.8,146.7 L991.8,147.4 L989.8,148.1 L987.8,148.8 L985.8,149.4 L983.8,150.1 L981.8,150.8 L979.8,151.5 L977.8,152.2 L975.8,152.9 L973.7,153.6 L971.7,154.3 L969.7,155 L967.7,155.8 L965.7,156.5 L963.7,157.3 L961.7,158.1 L959.6,158.9 L957.6,159.7 L955.6,160.5 L953.6,161.4 L951.6,162.3 L949.5,163.2 L947.5,164.2 L945.5,165.2 L943.5,166.2 L941.4,167.2 L939.4,168.2 L937.4,169.3 L935.4,170.4 L933.4,171.5 L931.4,172.6 L929.4,173.7 L927.4,174.8 L925.4,175.9 L923.4,177 L921.4,178.2 L919.4,179.3 L917.3,180.4 L915.3,181.5 L913.3,182.6 L911.3,183.8 L909.3,184.9 L907.3,186.1 L905.3,187.3 L903.3,188.4 L901.3,189.6 L899.3,190.8 L897.3,191.9 L895.3,193.1 L893.3,194.3 L891.3,195.4 L889.3,196.6 L887.3,197.7 L885.3,198.9 L883.3,200 L881.3,201.1 L879.3,202.2 L877.3,203.3 L875.3,204.4 L873.3,205.5 L871.3,206.6 L869.3,207.7 L867.3,208.8 L865.3,209.9 L863.3,211 L861.3,212.1 L859.3,213.2 L857.3,214.3 L855.3,215.4 L853.3,216.5 L851.3,217.7 L849.3,218.8 L847.3,219.9 L845.3,221.1 L843.3,222.2 L841.3,223.4 L839.3,224.5 L837.3,225.7 L835.3,226.9 L833.3,228 L831.3,229.2 L829.3,230.3 L827.3,231.5 L825.3,232.6 L823.3,233.8 L821.3,234.9 L819.3,236 L817.3,237.1 L815.4,238.2 L813.4,239.3 L811.4,240.3 L809.4,241.4 L807.4,242.5 L805.4,243.5 L803.4,244.6 L801.4,245.6 L799.4,246.7 L797.4,247.7 L795.4,248.7 L793.4,249.7 L791.4,250.8 L789.4,251.8 L787.4,252.7 L785.4,253.7 L783.5,254.7 L781.5,255.7 L779.5,256.6 L777.5,257.6 L775.5,258.5 L773.5,259.5 L771.5,260.4 L769.5,261.3 L767.5,262.2 L765.5,263.1 L763.5,264 L761.5,264.9 L759.5,265.8 L757.5,266.7 L755.5,267.6 L753.5,268.5 L751.5,269.4 L749.5,270.2 L747.5,271.1 L745.5,272 L743.5,272.8 L741.6,273.7 L739.6,274.6 L737.6,275.4 L735.6,276.2 L733.6,277.1 L731.6,277.9 L729.6,278.8 L727.6,279.6 L725.6,280.4 L723.6,281.3 L721.6,282.1 L719.6,282.9 L717.6,283.8 L715.6,284.6 L713.6,285.4 L711.6,286.3 L709.6,287.1 L707.6,287.9 L705.6,288.7 L703.6,289.6 L701.6,290.4 L699.6,291.2 L697.6,292 L695.6,292.8 L693.6,293.7 L691.6,294.5 L689.6,295.3 L687.6,296.1 L685.6,296.9 L683.6,297.7 L681.6,298.5 L679.6,299.4 L677.6,300.2 L675.6,301 L673.6,301.8 L671.6,302.6 L669.6,303.4 L667.6,304.2 L665.6,305 L663.6,305.8 L661.6,306.6 L659.6,307.4 L657.6,308.2 L655.6,309 L653.6,309.8 L651.6,310.6 L649.6,311.4 L647.6,312.2 L645.6,313 L643.6,313.7 L641.6,314.5 L639.6,315.3 L637.6,316.1 L635.6,316.8 L633.6,317.6 L631.6,318.3 L629.6,319.1 L627.7,319.9 L625.7,320.6 L623.7,321.4 L621.7,322.1 L619.6,322.9 L617.6,323.6 L615.6,324.4 L613.6,325.2 L611.6,325.9 L609.6,326.7 L607.6,327.5 L605.6,328.2 L603.6,329 L601.6,329.8 L599.6,330.5 L597.6,331.3 L595.6,332.1 L593.6,332.9 L591.6,333.6 L589.6,334.4 L587.6,335.2 L585.6,336 L583.6,336.8 L581.6,337.6 L579.6,338.3 L577.6,339.1 L575.6,339.9 L573.6,340.7 L571.6,341.5 L569.6,342.4 L567.6,343.2 L565.6,344 L563.6,344.8 L561.6,345.6 L559.6,346.5 L557.6,347.3 L555.6,348.1 L553.6,349 L551.6,349.8 L549.6,350.6 L547.6,351.4 L545.6,352.2 L543.6,353 L541.6,353.8 L539.6,354.6 L537.6,355.4 L535.6,356.2 L533.6,357 L531.6,357.8 L529.6,358.5 L527.6,359.3 L525.6,360.1 L523.6,360.9 L521.6,361.6 L519.6,362.4 L517.6,363.2 L515.6,364 L513.6,364.8 L511.6,365.6 L509.6,366.4 L507.6,367.2 L505.6,368 L503.6,368.8 L501.6,369.7 L499.6,370.5 L497.6,371.4 L495.6,372.2 L493.5,373.1 L491.5,374 L489.5,374.8 L487.5,375.7 L485.5,376.6 L483.5,377.5 L481.5,378.4 L479.5,379.2 L477.5,380.1 L475.5,381 L473.5,381.9 L471.5,382.8 L469.5,383.7 L467.5,384.6 L465.5,385.5 L463.5,386.3 L461.5,387.2 L459.5,388.1 L457.5,389 L455.5,389.9 L453.5,390.8 L451.5,391.8 L449.5,392.7 L447.5,393.6 L445.5,394.5 L443.5,395.3 L441.5,396.2 L439.5,397.1 L437.5,398 L435.5,398.9 L433.5,399.8 L431.5,400.7 L429.5,401.5 L427.5,402.4 L425.5,403.3 L423.5,404.2 L421.5,405.1 L419.5,405.9 L417.5,406.8 L415.5,407.7 L413.5,408.6 L411.5,409.5 L409.5,410.4 L407.5,411.3 L405.5,412.2 L403.5,413.1 L401.5,414 L399.5,414.9 L397.5,415.8 L395.5,416.8 L393.5,417.7 L391.5,418.6 L389.5,419.6 L387.5,420.5 L385.5,421.4 L383.5,422.4 L381.5,423.3 L379.5,424.3 L377.5,425.2 L375.5,426.2 L373.5,427.2 L371.5,428.1 L369.5,429.1 L367.5,430.1 L365.5,431 L363.5,432 L361.4,433 L359.4,434 L357.4,434.9 L355.4,435.9 L353.4,436.9 L351.4,437.9 L349.4,438.9 L347.4,439.9 L345.4,440.9 L343.4,441.9 L341.4,442.9 L339.4,443.9 L337.4,444.9 L335.4,445.8 L333.4,446.9 L331.4,447.9 L329.4,448.9 L327.4,449.9 L325.4,450.9 L323.4,451.9 L321.4,452.9 L319.4,453.9 L317.4,454.9 L315.4,455.9 L313.4,457 L311.4,458 L309.4,459 L307.4,460 L305.4,461 L303.4,462 L301.4,463.1 L299.4,464.1 L297.4,465.1 L295.4,466.1 L293.4,467.2 L291.4,468.2 L289.4,469.2 L287.4,470.3 L285.4,471.3 L283.4,472.3 L281.4,473.4 L279.4,474.4 L277.4,475.4 L275.4,476.5 L273.4,477.5 L271.4,478.5 L269.4,479.5 L267.4,480.5 L265.4,481.6 L263.4,482.6 L261.4,483.6 L259.4,484.6 L257.4,485.6 L255.4,486.6 L253.4,487.6 L251.4,488.6 L249.4,489.7 L247.4,490.7 L245.4,491.7 L243.4,492.7 L241.4,493.7 L239.4,494.7 L237.4,495.8 L235.4,496.8 L233.4,497.8 L231.4,498.9 L229.4,499.9 L227.4,501 L225.4,502 L223.4,503.1 L221.4,504.1 L219.4,505.2 L217.4,506.3 L215.4,507.3 L213.4,508.4 L211.4,509.5 L209.4,510.5 L207.4,511.6 L205.4,512.7 L203.4,513.7 L201.4,514.8 L199.4,515.9 L197.4,516.9 L195.4,518 L193.4,519 L191.4,520.1 L189.4,521.1 L187.4,522.2 L185.4,523.2 L183.4,524.3 L181.4,525.3 L179.4,526.4 L177.4,527.4 L175.4,528.5 L173.4,529.6 L171.4,530.7 L169.3,531.8 L167.3,532.9 L165.3,534 L163.3,535.1 L161.3,536.2 L159.3,537.4 L157.3,538.5 L155.3,539.7 L153.3,540.8 L151.3,542 L149.3,543.2 L147.3,544.3 L145.3,545.5 L143.3,546.7 L141.3,547.9 L139.3,549.1 L137.3,550.4 L135.2,551.6 L133.2,552.8 L131.2,554 L129.2,555.3 L127.2,556.6 L125.2,557.8 L123.2,559.1 L121.2,560.4 L119.2,561.7 L117.2,563.1 L115.2,564.4 L113.2,565.7 L111.2,567.1 L109.2,568.4 L107.2,569.7 L105.2,571.1 L103.2,572.4 L101.2,573.7 L99.2,575.1 L97.2,576.4 L95.2,577.7 Z" fill="#fe1d00"/>
<path d="M98,538.9 L100,537.4 L102,535.8 L104,534.2 L106,532.7 L108,531.1 L110,529.6 L112,528.1 L114,526.6 L115.9,525.1 L117.9,523.7 L119.9,522.3 L121.9,520.9 L123.9,519.5 L125.9,518.1 L127.9,516.7 L129.9,515.4 L131.9,514 L133.9,512.7 L135.8,511.4 L137.8,510.1 L139.8,508.8 L141.8,507.5 L143.8,506.3 L145.8,505 L147.8,503.8 L149.8,502.6 L151.7,501.5 L153.7,500.3 L155.7,499.1 L157.7,498 L159.7,496.9 L161.7,495.8 L163.7,494.7 L165.7,493.5 L167.7,492.4 L169.7,491.3 L171.7,490.2 L173.7,489 L175.7,487.9 L177.7,486.8 L179.7,485.7 L181.7,484.6 L183.7,483.4 L185.7,482.3 L187.7,481.2 L189.7,480.1 L191.7,479 L193.7,477.8 L195.7,476.7 L197.7,475.6 L199.7,474.4 L201.7,473.3 L203.7,472.2 L205.7,471 L207.7,469.9 L209.7,468.7 L211.7,467.6 L213.7,466.4 L215.7,465.3 L217.7,464.1 L219.7,463 L221.7,461.8 L223.7,460.7 L225.7,459.6 L227.7,458.4 L229.7,457.3 L231.7,456.1 L233.7,455 L235.7,453.9 L237.7,452.7 L239.7,451.6 L241.7,450.5 L243.7,449.4 L245.7,448.2 L247.7,447.1 L249.7,446 L251.7,444.9 L253.7,443.8 L255.7,442.6 L257.7,441.5 L259.7,440.4 L261.7,439.3 L263.7,438.2 L265.7,437 L267.7,435.9 L269.7,434.8 L271.7,433.7 L273.7,432.5 L275.7,431.4 L277.7,430.3 L279.7,429.1 L281.7,428 L283.7,426.9 L285.7,425.8 L287.7,424.6 L289.7,423.5 L291.7,422.4 L293.7,421.3 L295.7,420.2 L297.7,419.1 L299.7,418 L301.7,416.9 L303.7,415.8 L305.7,414.7 L307.7,413.7 L309.6,412.6 L311.6,411.5 L313.6,410.5 L315.6,409.5 L317.6,408.4 L319.6,407.4 L321.6,406.4 L323.6,405.3 L325.6,404.3 L327.6,403.3 L329.6,402.3 L331.6,401.2 L333.6,400.2 L335.6,399.2 L337.6,398.2 L339.6,397.2 L341.6,396.2 L343.6,395.2 L345.6,394.2 L347.6,393.2 L349.6,392.1 L351.6,391.1 L353.6,390.2 L355.6,389.2 L357.6,388.2 L359.6,387.2 L361.6,386.2 L363.6,385.2 L365.6,384.2 L367.6,383.2 L369.6,382.3 L371.6,381.3 L373.6,380.3 L375.6,379.3 L377.6,378.4 L379.6,377.4 L381.6,376.4 L383.6,375.5 L385.6,374.5 L387.6,373.5 L389.6,372.6 L391.6,371.6 L393.6,370.7 L395.6,369.7 L397.6,368.7 L399.6,367.8 L401.6,366.8 L403.6,365.8 L405.6,364.8 L407.6,363.8 L409.6,362.8 L411.6,361.9 L413.6,360.9 L415.6,359.9 L417.6,358.9 L419.6,357.9 L421.6,356.9 L423.6,355.9 L425.6,354.8 L427.6,353.8 L429.6,352.8 L431.6,351.8 L433.6,350.8 L435.6,349.8 L437.6,348.8 L439.6,347.8 L441.6,346.8 L443.6,345.9 L445.6,344.9 L447.6,343.9 L449.6,342.9 L451.6,341.9 L453.6,340.9 L455.6,339.9 L457.6,338.9 L459.6,338 L461.6,337 L463.6,336 L465.6,335.1 L467.6,334.1 L469.6,333.1 L471.5,332.2 L473.5,331.2 L475.5,330.3 L477.5,329.4 L479.5,328.4 L481.5,327.5 L483.5,326.6 L485.5,325.7 L487.5,324.8 L489.5,323.8 L491.5,322.9 L493.5,322 L495.5,321.1 L497.5,320.2 L499.5,319.3 L501.5,318.4 L503.5,317.5 L505.5,316.6 L507.5,315.7 L509.5,314.8 L511.5,313.9 L513.5,312.9 L515.5,312 L517.5,311.1 L519.5,310.2 L521.5,309.3 L523.5,308.3 L525.5,307.4 L527.5,306.5 L529.5,305.6 L531.5,304.7 L533.5,303.7 L535.5,302.8 L537.5,301.9 L539.5,301 L541.5,300.1 L543.5,299.1 L545.5,298.2 L547.5,297.3 L549.5,296.4 L551.5,295.5 L553.5,294.6 L555.5,293.7 L557.5,292.7 L559.5,291.8 L561.5,290.9 L563.5,290 L565.5,289.1 L567.5,288.2 L569.5,287.3 L571.5,286.4 L573.5,285.5 L575.5,284.6 L577.5,283.7 L579.5,282.8 L581.5,281.9 L583.5,281 L585.5,280.1 L587.5,279.2 L589.5,278.3 L591.5,277.4 L593.5,276.5 L595.5,275.6 L597.5,274.7 L599.5,273.9 L601.5,273 L603.5,272.1 L605.5,271.3 L607.5,270.4 L609.5,269.5 L611.5,268.7 L613.5,267.8 L615.5,267 L617.4,266.2 L619.4,265.3 L621.4,264.5 L623.4,263.7 L625.4,262.8 L627.4,262 L629.4,261.2 L631.4,260.4 L633.4,259.6 L635.4,258.7 L637.4,257.9 L639.4,257.1 L641.4,256.2 L643.4,255.4 L645.4,254.6 L647.4,253.7 L649.4,252.9 L651.4,252.1 L653.4,251.2 L655.4,250.4 L657.5,249.5 L659.5,248.7 L661.5,247.9 L663.5,247 L665.5,246.1 L667.5,245.3 L669.5,244.4 L671.5,243.5 L673.5,242.7 L675.5,241.8 L677.5,240.9 L679.5,240 L681.5,239 L683.5,238.1 L685.5,237.2 L687.6,236.2 L689.6,235.3 L691.6,234.3 L693.6,233.3 L695.6,232.3 L697.6,231.3 L699.6,230.3 L701.6,229.3 L703.6,228.3 L705.6,227.3 L707.6,226.3 L709.6,225.3 L711.6,224.3 L713.6,223.3 L715.6,222.3 L717.6,221.2 L719.6,220.2 L721.6,219.2 L723.6,218.2 L725.6,217.2 L727.6,216.1 L729.6,215.1 L731.6,214.1 L733.6,213 L735.6,212 L737.7,210.9 L739.7,209.8 L741.7,208.7 L743.7,207.6 L745.7,206.5 L747.7,205.3 L749.8,204.1 L751.8,202.9 L753.8,201.7 L755.8,200.4 L757.8,199.1 L759.8,197.8 L761.9,196.5 L763.9,195.2 L765.9,193.8 L767.9,192.4 L769.9,191 L771.9,189.7 L773.9,188.3 L775.9,186.9 L777.9,185.5 L779.9,184.1 L781.9,182.7 L783.9,181.4 L785.9,180 L787.9,178.6 L789.9,177.3 L791.9,175.9 L793.9,174.5 L795.9,173.1 L797.9,171.7 L799.9,170.4 L801.9,169 L803.9,167.6 L805.9,166.2 L807.9,164.9 L809.9,163.5 L811.9,162.1 L813.9,160.8 L815.9,159.4 L817.9,158.1 L819.9,156.8 L821.9,155.4 L823.9,154.1 L825.9,152.8 L827.9,151.5 L829.8,150.1 L831.8,148.8 L833.8,147.5 L835.8,146.2 L837.8,144.9 L839.8,143.6 L841.8,142.3 L843.8,141.1 L845.8,139.8 L847.8,138.5 L849.8,137.3 L851.8,136 L853.8,134.7 L855.8,133.5 L857.8,132.3 L859.8,131 L861.8,129.8 L863.8,128.5 L865.8,127.3 L867.7,126.1 L869.7,124.9 L871.7,123.7 L873.7,122.5 L875.7,121.4 L877.7,120.2 L879.7,119.1 L881.6,118 L883.6,116.9 L885.6,115.9 L887.6,114.8 L889.6,113.8 L891.5,112.8 L893.5,111.9 L895.5,110.9 L897.5,110 L899.5,109 L901.5,108.1 L903.4,107.2 L905.4,106.3 L907.4,105.5 L909.4,104.6 L911.4,103.7 L913.4,102.9 L915.4,102 L917.4,101.2 L919.4,100.3 L921.4,99.5 L923.4,98.7 L925.4,97.8 L927.4,97 L929.3,96.2 L931.3,95.4 L933.3,94.6 L935.3,93.8 L937.3,93 L939.3,92.2 L941.3,91.5 L943.3,90.7 L945.3,90 L947.2,89.3 L949.2,88.5 L951.2,87.8 L953.2,87.2 L955.2,86.5 L957.2,85.8 L959.2,85.2 L961.2,84.5 L963.1,83.9 L965.1,83.3 L967.1,82.7 L969.1,82.1 L971.1,81.5 L973.1,80.9 L975.1,80.3 L977.1,79.8 L979,79.3 L981,78.7 L983,78.2 L985,77.8 L987,77.3 L989,76.8 L991,76.4 L992.9,75.9 L994.9,75.5 L996.9,75.1 L998.9,74.7 L1000.9,74.3 L1002.9,73.9 L1004.9,73.5 L1006.9,73.1 L1008.9,72.8 L1010.8,72.4 L1012.8,72.1 L1014.8,71.8 L1016.8,71.5 L1018.8,71.2 L1020.8,70.9 L1022.8,70.7 L1024.7,70.4 L1026.7,70.2 L1028.7,69.9 L1030.7,69.7 L1032.7,69.5 L1034.7,69.3 L1036.7,69.1 L1038.7,68.9 L1040.7,68.8 L1042.7,68.6 L1044.7,68.4 L1046.7,68.2 L1048.7,68 L1050.7,67.9 L1052.7,67.7 L1054.7,67.5 L1056.7,67.3 L1058.7,67.1 L1060.7,67 L1062.7,66.8 L1064.7,66.6 L1066.7,66.4 L1068.7,66.2 L1070.7,66 L1072.7,65.8 L1074.7,65.6 L1076.7,65.5 L1078.7,65.3 L1080.7,65.1 L1082.7,64.9 L1084.6,64.8 L1086.6,64.6 L1088.6,64.5 L1090.6,64.4 L1092.6,64.2 L1094.6,64.1 L1096.6,64 L1098.6,63.9 L1100.6,63.8 L1102.6,63.7 L1104.6,63.6 L1106.6,63.5 L1108.6,63.4 L1110.6,63.3 L1112.6,63.2 L1114.6,63.1 L1116.6,63.1 L1118.6,63 L1120.6,62.9 L1122.6,62.8 L1124.6,62.8 L1126.6,62.7 L1128.6,62.6 L1130.6,62.6 L1132.6,62.5 L1134.6,62.4 L1136.6,62.4 L1138.6,62.3 L1140.6,62.2 L1142.6,62.2 L1144.6,62.1 L1146.6,62.1 L1148.6,62 L1150.6,62 L1152.6,61.9 L1154.6,61.9 L1156.6,61.8 L1158.6,61.7 L1160.6,61.7 L1162.6,61.6 L1164.6,61.6 L1166.6,61.5 L1168.6,61.5 L1170.6,61.4 L1172.6,61.3 L1174.6,61.3 L1176.6,61.2 L1178.6,61.2 L1180.5,61.1 L1182.5,61.1 L1184.5,61 L1186.5,61 L1188.5,60.9 L1190.5,60.9 L1192.5,60.9 L1194.5,60.8 L1196.5,60.8 L1198.5,60.8 L1200.5,60.7 L1202.5,60.7 L1204.5,60.7 L1206.5,60.7 L1208.5,60.6 L1210.5,60.6 L1212.5,60.6 L1214.5,60.6 L1216.5,60.5 L1218.5,60.5 L1220.5,60.5 L1222.5,60.5 L1224.5,60.5 L1226.5,60.4 L1228.5,60.4 L1230.5,60.4 L1232.5,60.4 L1234.5,60.4 L1236.5,60.4 L1238.5,60.3 L1240.5,60.3 L1242.5,60.3 L1244.5,60.3 L1246.5,60.3 L1248.5,60.3 L1250.5,60.2 L1252.5,60.2 L1254.5,60.2 L1256.5,60.2 L1258.5,60.2 L1260.5,60.2 L1262.5,60.1 L1264.5,60.1 L1266.5,60.1 L1268.5,60.1 L1270.5,60.1 L1272.5,60.1 L1274.5,60 L1276.5,60 L1278.5,60 L1280.5,60 L1282.5,60 L1284.5,60 L1286.5,60 L1288.5,59.9 L1290.5,59.9 L1292.5,59.9 L1294.5,59.9 L1296.5,59.9 L1298.5,59.9 L1300.5,59.9 L1302.5,59.8 L1304.5,59.8 L1306.5,59.8 L1308.5,59.8 L1310.5,59.8 L1312.5,59.8 L1314.5,59.8 L1316.5,59.7 L1318.5,59.7 L1320.5,59.7 L1322.5,59.7 L1324.5,59.7 L1326.5,59.7 L1328.5,59.7 L1329,59.6 L1329,55.8 L1328.5,55.8 L1326.5,55.8 L1324.5,55.8 L1322.5,55.8 L1320.5,55.8 L1318.5,55.8 L1316.5,55.8 L1314.5,55.9 L1312.5,55.9 L1310.5,55.9 L1308.5,55.9 L1306.5,55.9 L1304.5,55.9 L1302.5,55.9 L1300.5,56 L1298.5,56 L1296.5,56 L1294.5,56 L1292.5,56 L1290.5,56 L1288.5,56 L1286.5,56.1 L1284.5,56.1 L1282.5,56.1 L1280.5,56.1 L1278.5,56.1 L1276.5,56.1 L1274.5,56.1 L1272.5,56.2 L1270.5,56.2 L1268.5,56.2 L1266.5,56.2 L1264.5,56.2 L1262.5,56.2 L1260.5,56.3 L1258.5,56.3 L1256.5,56.3 L1254.5,56.3 L1252.5,56.3 L1250.5,56.3 L1248.5,56.4 L1246.5,56.4 L1244.5,56.4 L1242.5,56.4 L1240.5,56.4 L1238.5,56.4 L1236.5,56.5 L1234.5,56.5 L1232.5,56.5 L1230.5,56.5 L1228.5,56.5 L1226.5,56.5 L1224.5,56.6 L1222.5,56.6 L1220.5,56.6 L1218.5,56.6 L1216.5,56.6 L1214.5,56.7 L1212.5,56.7 L1210.5,56.7 L1208.5,56.7 L1206.5,56.8 L1204.5,56.8 L1202.5,56.8 L1200.5,56.8 L1198.5,56.9 L1196.5,56.9 L1194.5,56.9 L1192.5,57 L1190.5,57 L1188.5,57 L1186.5,57.1 L1184.5,57.1 L1182.5,57.2 L1180.5,57.2 L1178.4,57.3 L1176.4,57.3 L1174.4,57.4 L1172.4,57.4 L1170.4,57.5 L1168.4,57.6 L1166.4,57.6 L1164.4,57.7 L1162.4,57.7 L1160.4,57.8 L1158.4,57.8 L1156.4,57.9 L1154.4,58 L1152.4,58 L1150.4,58.1 L1148.4,58.1 L1146.4,58.2 L1144.4,58.2 L1142.4,58.3 L1140.4,58.3 L1138.4,58.4 L1136.4,58.5 L1134.4,58.5 L1132.4,58.6 L1130.4,58.7 L1128.4,58.7 L1126.4,58.8 L1124.4,58.9 L1122.4,58.9 L1120.4,59 L1118.4,59.1 L1116.4,59.2 L1114.4,59.2 L1112.4,59.3 L1110.4,59.4 L1108.4,59.5 L1106.4,59.6 L1104.4,59.7 L1102.4,59.8 L1100.4,59.9 L1098.4,60 L1096.4,60.1 L1094.4,60.2 L1092.4,60.4 L1090.4,60.5 L1088.4,60.6 L1086.4,60.8 L1084.4,60.9 L1082.3,61.1 L1080.3,61.2 L1078.3,61.4 L1076.3,61.6 L1074.3,61.8 L1072.3,61.9 L1070.3,62.1 L1068.3,62.3 L1066.3,62.5 L1064.3,62.7 L1062.3,62.9 L1060.3,63.1 L1058.3,63.3 L1056.3,63.4 L1054.3,63.6 L1052.3,63.8 L1050.3,64 L1048.3,64.1 L1046.3,64.3 L1044.3,64.5 L1042.3,64.7 L1040.3,64.8 L1038.3,65 L1036.3,65.2 L1034.3,65.4 L1032.3,65.6 L1030.3,65.8 L1028.3,66 L1026.3,66.2 L1024.3,66.4 L1022.2,66.7 L1020.2,66.9 L1018.2,67.2 L1016.2,67.5 L1014.2,67.8 L1012.2,68.1 L1010.2,68.4 L1008.1,68.7 L1006.1,69.1 L1004.1,69.5 L1002.1,69.8 L1000.1,70.2 L998.1,70.6 L996.1,71 L994.1,71.4 L992.1,71.8 L990,72.3 L988,72.7 L986,73.2 L984,73.6 L982,74.1 L980,74.6 L978,75.1 L975.9,75.7 L973.9,76.2 L971.9,76.8 L969.9,77.4 L967.9,77.9 L965.9,78.5 L963.9,79.1 L961.9,79.8 L959.8,80.4 L957.8,81 L955.8,81.7 L953.8,82.3 L951.8,83 L949.8,83.7 L947.8,84.4 L945.8,85.1 L943.7,85.8 L941.7,86.6 L939.7,87.3 L937.7,88.1 L935.7,88.8 L933.7,89.6 L931.7,90.4 L929.7,91.2 L927.7,92 L925.6,92.8 L923.6,93.7 L921.6,94.5 L919.6,95.3 L917.6,96.1 L915.6,97 L913.6,97.8 L911.6,98.7 L909.6,99.5 L907.6,100.4 L905.6,101.2 L903.6,102.1 L901.6,103 L899.5,103.9 L897.5,104.8 L895.5,105.7 L893.5,106.7 L891.5,107.7 L889.5,108.6 L887.4,109.6 L885.4,110.7 L883.4,111.7 L881.4,112.7 L879.4,113.8 L877.3,114.9 L875.3,116.1 L873.3,117.2 L871.3,118.4 L869.3,119.6 L867.3,120.8 L865.3,122 L863.2,123.2 L861.2,124.4 L859.2,125.6 L857.2,126.9 L855.2,128.1 L853.2,129.4 L851.2,130.6 L849.2,131.8 L847.2,133.1 L845.2,134.4 L843.2,135.7 L841.2,136.9 L839.2,138.2 L837.2,139.5 L835.2,140.8 L833.2,142.1 L831.2,143.4 L829.2,144.7 L827.2,146 L825.1,147.4 L823.1,148.7 L821.1,150 L819.1,151.3 L817.1,152.7 L815.1,154 L813.1,155.4 L811.1,156.7 L809.1,158.1 L807.1,159.5 L805.1,160.8 L803.1,162.2 L801.1,163.6 L799.1,164.9 L797.1,166.3 L795.1,167.7 L793.1,169.1 L791.1,170.5 L789.1,171.8 L787.1,173.2 L785.1,174.6 L783.1,176 L781.1,177.3 L779.1,178.7 L777.1,180.1 L775.1,181.5 L773.1,182.9 L771.1,184.2 L769.1,185.6 L767.1,187 L765.1,188.4 L763.1,189.7 L761.1,191.1 L759.1,192.4 L757.2,193.7 L755.2,195 L753.2,196.3 L751.2,197.5 L749.2,198.7 L747.2,199.9 L745.3,201.1 L743.3,202.2 L741.3,203.3 L739.3,204.4 L737.3,205.5 L735.3,206.6 L733.4,207.7 L731.4,208.7 L729.4,209.7 L727.4,210.8 L725.4,211.8 L723.4,212.8 L721.4,213.8 L719.4,214.8 L717.4,215.8 L715.4,216.9 L713.4,217.9 L711.4,218.9 L709.4,219.9 L707.4,220.9 L705.4,221.9 L703.4,222.9 L701.4,223.9 L699.4,225 L697.4,225.9 L695.4,226.9 L693.4,227.9 L691.4,228.9 L689.4,229.9 L687.4,230.8 L685.4,231.8 L683.5,232.7 L681.5,233.7 L679.5,234.6 L677.5,235.5 L675.5,236.4 L673.5,237.3 L671.5,238.2 L669.5,239.1 L667.5,239.9 L665.5,240.8 L663.5,241.6 L661.5,242.5 L659.5,243.3 L657.5,244.2 L655.5,245 L653.6,245.9 L651.6,246.7 L649.6,247.5 L647.6,248.4 L645.6,249.2 L643.6,250.1 L641.6,250.9 L639.6,251.7 L637.6,252.5 L635.6,253.4 L633.6,254.2 L631.6,255 L629.6,255.8 L627.6,256.7 L625.6,257.5 L623.6,258.3 L621.6,259.1 L619.6,260 L617.6,260.8 L615.6,261.6 L613.5,262.5 L611.5,263.3 L609.5,264.2 L607.5,265 L605.5,265.9 L603.5,266.8 L601.5,267.6 L599.5,268.5 L597.5,269.4 L595.5,270.3 L593.5,271.1 L591.5,272 L589.5,272.9 L587.5,273.8 L585.5,274.7 L583.5,275.6 L581.5,276.5 L579.5,277.4 L577.5,278.3 L575.5,279.2 L573.5,280.1 L571.5,281 L569.5,281.9 L567.5,282.8 L565.5,283.7 L563.5,284.6 L561.5,285.5 L559.5,286.4 L557.5,287.4 L555.5,288.3 L553.5,289.2 L551.5,290.1 L549.5,291 L547.5,291.9 L545.5,292.9 L543.5,293.8 L541.5,294.7 L539.5,295.6 L537.5,296.5 L535.5,297.5 L533.5,298.4 L531.5,299.3 L529.5,300.2 L527.5,301.1 L525.5,302.1 L523.5,303 L521.5,303.9 L519.5,304.8 L517.5,305.7 L515.5,306.6 L513.5,307.6 L511.5,308.5 L509.5,309.4 L507.5,310.3 L505.5,311.2 L503.5,312.1 L501.5,313 L499.5,313.9 L497.5,314.9 L495.5,315.8 L493.5,316.7 L491.5,317.6 L489.5,318.5 L487.5,319.4 L485.5,320.3 L483.5,321.2 L481.5,322.1 L479.5,323.1 L477.5,324 L475.5,324.9 L473.5,325.9 L471.5,326.8 L469.5,327.8 L467.4,328.7 L465.4,329.7 L463.4,330.6 L461.4,331.6 L459.4,332.6 L457.4,333.6 L455.4,334.5 L453.4,335.5 L451.4,336.5 L449.4,337.5 L447.4,338.5 L445.4,339.5 L443.4,340.5 L441.4,341.5 L439.4,342.5 L437.4,343.4 L435.4,344.4 L433.4,345.5 L431.4,346.5 L429.4,347.5 L427.4,348.5 L425.4,349.5 L423.4,350.5 L421.4,351.5 L419.4,352.5 L417.4,353.5 L415.4,354.5 L413.4,355.5 L411.4,356.5 L409.4,357.5 L407.4,358.5 L405.4,359.4 L403.4,360.4 L401.4,361.4 L399.4,362.4 L397.4,363.3 L395.4,364.3 L393.4,365.3 L391.4,366.2 L389.4,367.2 L387.4,368.2 L385.4,369.1 L383.4,370.1 L381.4,371 L379.4,372 L377.4,373 L375.4,373.9 L373.4,374.9 L371.4,375.9 L369.4,376.9 L367.4,377.9 L365.4,378.8 L363.4,379.8 L361.4,380.8 L359.4,381.8 L357.4,382.8 L355.4,383.8 L353.4,384.8 L351.4,385.8 L349.4,386.8 L347.4,387.8 L345.4,388.8 L343.4,389.8 L341.4,390.8 L339.4,391.8 L337.4,392.8 L335.4,393.8 L333.4,394.8 L331.4,395.9 L329.4,396.9 L327.4,397.9 L325.4,398.9 L323.4,399.9 L321.4,401 L319.4,402 L317.4,403 L315.4,404.1 L313.4,405.1 L311.4,406.2 L309.4,407.2 L307.4,408.3 L305.3,409.3 L303.3,410.4 L301.3,411.5 L299.3,412.6 L297.3,413.7 L295.3,414.8 L293.3,415.9 L291.3,417 L289.3,418.1 L287.3,419.2 L285.3,420.4 L283.3,421.5 L281.3,422.6 L279.3,423.8 L277.3,424.9 L275.3,426 L273.3,427.1 L271.3,428.3 L269.3,429.4 L267.3,430.5 L265.3,431.6 L263.3,432.8 L261.3,433.9 L259.3,435 L257.3,436.1 L255.3,437.2 L253.3,438.4 L251.3,439.5 L249.3,440.6 L247.3,441.7 L245.3,442.8 L243.3,444 L241.3,445.1 L239.3,446.2 L237.3,447.3 L235.3,448.5 L233.3,449.6 L231.3,450.8 L229.3,451.9 L227.3,453 L225.3,454.2 L223.3,455.3 L221.3,456.5 L219.3,457.6 L217.3,458.7 L215.3,459.9 L213.3,461 L211.3,462.2 L209.3,463.3 L207.3,464.5 L205.3,465.6 L203.3,466.8 L201.3,467.9 L199.3,469 L197.3,470.2 L195.3,471.3 L193.3,472.4 L191.3,473.6 L189.3,474.7 L187.3,475.8 L185.3,476.9 L183.3,478 L181.3,479.2 L179.3,480.3 L177.3,481.4 L175.3,482.5 L173.3,483.6 L171.3,484.8 L169.3,485.9 L167.3,487 L165.3,488.2 L163.3,489.3 L161.3,490.4 L159.3,491.5 L157.3,492.6 L155.3,493.7 L153.3,494.9 L151.3,496.1 L149.3,497.2 L147.2,498.4 L145.2,499.6 L143.2,500.9 L141.2,502.1 L139.2,503.4 L137.2,504.7 L135.2,506 L133.2,507.3 L131.1,508.6 L129.1,510 L127.1,511.3 L125.1,512.7 L123.1,514.1 L121.1,515.5 L119.1,516.9 L117.1,518.3 L115.1,519.7 L113.1,521.2 L111,522.7 L109,524.2 L107,525.7 L105,527.3 L103,528.8 L101,530.4 L99,531.9 L97,533.5 L95,535.1 Z" fill="#6893be"/>
<path d="M91.3,4.2 L1328.5,3.4 L1328.5,8.9 L91.3,9.4 Z" fill="#000"/>
<rect x="91.3" y="4" width="5.3" height="674.6" fill="#000"/>
<rect x="91.3" y="183.7" width="6.1" height="494.9" fill="#000"/>
<rect x="91.4" y="673.4" width="1240.4" height="5.2" fill="#000"/>
<rect x="1327.9" y="2.2" width="3.4" height="671.5" rx="1.5" fill="#000"/>
<rect x="183.2" y="586.4" width="7.4" height="2.1" fill="#c8174c"/>
<text transform="translate(191.8,592.7) scale(0.89,1)" font-size="18.6" letter-spacing="1.7" fill="#c8174c" stroke="#c8174c" stroke-width="0.5">1,11</text>
<rect x="258" y="512" width="7.4" height="2.1" fill="#c8174c"/>
<text transform="translate(266.6,518.3) scale(0.89,1)" font-size="18.6" letter-spacing="1.7" fill="#c8174c" stroke="#c8174c" stroke-width="0.5">1,29</text>
<rect x="405.1" y="496.6" width="7.4" height="2.1" fill="#c8174c"/>
<text transform="translate(413.7,502.9) scale(0.89,1)" font-size="18.6" letter-spacing="1.7" fill="#c8174c" stroke="#c8174c" stroke-width="0.5">1,75</text>
<rect x="524.5" y="410.9" width="7.4" height="2.1" fill="#c8174c"/>
<text transform="translate(533.1,417.2) scale(0.89,1)" font-size="18.6" letter-spacing="1.7" fill="#c8174c" stroke="#c8174c" stroke-width="0.5">1,98</text>
<rect x="602.3" y="430.5" width="7.4" height="2.1" fill="#c8174c"/>
<text transform="translate(610.9,436.8) scale(0.89,1)" font-size="18.6" letter-spacing="1.7" fill="#c8174c" stroke="#c8174c" stroke-width="0.5">2,14</text>
<rect x="629.5" y="385.3" width="7.4" height="2.1" fill="#c8174c"/>
<text transform="translate(638.1,391.6) scale(0.89,1)" font-size="18.6" letter-spacing="1.7" fill="#c8174c" stroke="#c8174c" stroke-width="0.5">2,39</text>
<rect x="675.8" y="420.5" width="7.4" height="2.1" fill="#c8174c"/>
<text transform="translate(684.4,426.8) scale(0.89,1)" font-size="18.6" letter-spacing="1.7" fill="#c8174c" stroke="#c8174c" stroke-width="0.5">2,63</text>
<rect x="709.5" y="358.9" width="7.4" height="2.1" fill="#c8174c"/>
<text transform="translate(718.1,365.2) scale(0.89,1)" font-size="18.6" letter-spacing="1.7" fill="#c8174c" stroke="#c8174c" stroke-width="0.5">2,18</text>
<rect x="764" y="377.1" width="7.4" height="2.1" fill="#c8174c"/>
<text transform="translate(772.6,383.4) scale(0.89,1)" font-size="18.6" letter-spacing="1.7" fill="#c8174c" stroke="#c8174c" stroke-width="0.5">2,30</text>
<rect x="811.5" y="317.9" width="7.4" height="2.1" fill="#c8174c"/>
<text transform="translate(820.1,324.2) scale(0.89,1)" font-size="18.6" letter-spacing="1.7" fill="#c8174c" stroke="#c8174c" stroke-width="0.5">2,18</text>
<rect x="854.1" y="341.3" width="7.4" height="2.1" fill="#c8174c"/>
<text transform="translate(862.7,347.6) scale(0.89,1)" font-size="18.6" letter-spacing="1.7" fill="#c8174c" stroke="#c8174c" stroke-width="0.5">2,25</text>
<rect x="929" y="262.2" width="7.4" height="2.1" fill="#c8174c"/>
<text transform="translate(937.6,268.5) scale(0.89,1)" font-size="18.6" letter-spacing="1.7" fill="#c8174c" stroke="#c8174c" stroke-width="0.5">2,18</text>
<rect x="998.8" y="251.5" width="7.4" height="2.1" fill="#c8174c"/>
<text transform="translate(1007.4,257.8) scale(0.89,1)" font-size="18.6" letter-spacing="1.7" fill="#c8174c" stroke="#c8174c" stroke-width="0.5">1,74</text>
<rect x="1067.2" y="159.4" width="7.4" height="2.1" fill="#c8174c"/>
<text transform="translate(1075.8,165.7) scale(0.89,1)" font-size="18.6" letter-spacing="1.7" fill="#c8174c" stroke="#c8174c" stroke-width="0.5">1,15</text>
<path d="M167.4,563.1 L242.2,530.8 L389.8,473.6 L509,430.7 L586.4,407.4 L614.1,405 L660.5,396.6 L693.3,379.4 L748.4,354 L795.4,336.9 L838.4,317.6 L913,281.4 L983.4,227.8 L1052,179.1" stroke="#c0214f" stroke-width="7.2" fill="none" stroke-linejoin="round" stroke-linecap="round"/>
<circle cx="167.4" cy="563.1" r="6.9" fill="#c0214f"/>
<circle cx="242.2" cy="530.8" r="6.9" fill="#c0214f"/>
<circle cx="389.8" cy="473.6" r="6.9" fill="#c0214f"/>
<circle cx="509" cy="430.7" r="6.9" fill="#c0214f"/>
<circle cx="586.4" cy="407.4" r="6.9" fill="#c0214f"/>
<circle cx="614.1" cy="405" r="6.9" fill="#c0214f"/>
<circle cx="660.5" cy="396.6" r="6.9" fill="#c0214f"/>
<circle cx="693.3" cy="379.4" r="6.9" fill="#c0214f"/>
<circle cx="748.4" cy="354" r="6.9" fill="#c0214f"/>
<circle cx="795.4" cy="336.9" r="6.9" fill="#c0214f"/>
<circle cx="838.4" cy="317.6" r="6.9" fill="#c0214f"/>
<circle cx="913" cy="281.4" r="6.9" fill="#c0214f"/>
<circle cx="983.4" cy="227.8" r="6.9" fill="#c0214f"/>
<circle cx="1052" cy="179.1" r="6.9" fill="#c0214f"/>
<path d="M566.1,389.9 L571.5,389.9 L574.1,395.8 L576.7,389.9 L582.1,389.9 L576.4,398.2 L582.1,406.5 L576.7,406.5 L574.1,400.6 L571.5,406.5 L566.1,406.5 L571.8,398.2 Z" fill="#17b20a"/>
<path d="M637.9,349.9 L643.3,349.9 L645.9,355.8 L648.5,349.9 L653.9,349.9 L648.2,358.2 L653.9,366.5 L648.5,366.5 L645.9,360.6 L643.3,366.5 L637.9,366.5 L643.6,358.2 Z" fill="#17b20a"/>
<path d="M742.5,308.3 L747.9,308.3 L750.5,314.2 L753.1,308.3 L758.5,308.3 L752.8,316.6 L758.5,324.9 L753.1,324.9 L750.5,319 L747.9,324.9 L742.5,324.9 L748.2,316.6 Z" fill="#17b20a"/>
<path d="M844.7,273.7 L850.1,273.7 L852.7,279.6 L855.3,273.7 L860.7,273.7 L855,282 L860.7,290.3 L855.3,290.3 L852.7,284.4 L850.1,290.3 L844.7,290.3 L850.4,282 Z" fill="#17b20a"/>
<path d="M913.3,218.9 L918.7,218.9 L921.3,224.8 L923.9,218.9 L929.3,218.9 L923.6,227.2 L929.3,235.5 L923.9,235.5 L921.3,229.6 L918.7,235.5 L913.3,235.5 L919,227.2 Z" fill="#17b20a"/>
<path d="M980,171 L985.4,171 L988,176.9 L990.6,171 L996,171 L990.3,179.3 L996,187.6 L990.6,187.6 L988,181.7 L985.4,187.6 L980,187.6 L985.7,179.3 Z" fill="#17b20a"/>
<path d="M664.3,474.7 H978.2 V459.1 L1063.6,497.3 L978.2,535.1 V520.8 H664.3 Z" fill="#00a1fe"/>
<text x="669.3" y="509.4" font-size="29.6" fill="#fff" stroke="#fff" stroke-width="0.5">rhGH</text>
<path d="M730,406.8 H979.8 V391.8 L1064,429.7 L979.8,468.4 V452.8 H730 Z" fill="#ea200c"/>
<text x="735" y="441" font-size="31" fill="#fff" stroke="#fff" stroke-width="0.5">ketogenic diet</text>
<path d="M1329.8,53.3 V136.4 M1314,53.3 H1345 M1314,136.4 H1345" stroke="#0a37f5" stroke-width="5" fill="none"/>
<circle cx="1329.7" cy="95.8" r="6.6" fill="#0a37f5"/>
<text transform="translate(1346.8,104.3) scale(1.06,1)" font-size="30.5" fill="#0a37f5">MPH</text>
<text transform="translate(90.2,633.9) scale(1,1.07)" font-size="28" text-anchor="end" fill="#000">80</text>
<text transform="translate(90.2,581.8) scale(1,1.07)" font-size="28" text-anchor="end" fill="#000">90</text>
<text transform="translate(90.2,529.7) scale(1,1.07)" font-size="28" text-anchor="end" fill="#000">100</text>
<text transform="translate(90.2,477.6) scale(1,1.07)" font-size="28" text-anchor="end" fill="#000">110</text>
<text transform="translate(90.2,425.5) scale(1,1.07)" font-size="28" text-anchor="end" fill="#000">120</text>
<text transform="translate(90.2,373.3) scale(1,1.07)" font-size="28" text-anchor="end" fill="#000">130</text>
<text transform="translate(90.2,321.2) scale(1,1.07)" font-size="28" text-anchor="end" fill="#000">140</text>
<text transform="translate(90.2,269.1) scale(1,1.07)" font-size="28" text-anchor="end" fill="#000">150</text>
<text transform="translate(90.2,217) scale(1,1.07)" font-size="28" text-anchor="end" fill="#000">160</text>
<text transform="translate(90.2,164.8) scale(1,1.07)" font-size="28" text-anchor="end" fill="#000">170</text>
<text transform="translate(90.2,112.7) scale(1,1.07)" font-size="28" text-anchor="end" fill="#000">180</text>
<text transform="translate(90.2,60.6) scale(1,1.07)" font-size="28" text-anchor="end" fill="#000">190</text>
<text transform="translate(165,715.4) scale(1.0,1)" font-size="33" text-anchor="middle" fill="#000">3</text>
<text transform="translate(234.2,715.4) scale(1.0,1)" font-size="33" text-anchor="middle" fill="#000">4</text>
<text transform="translate(302.5,715.4) scale(1.0,1)" font-size="33" text-anchor="middle" fill="#000">5</text>
<text transform="translate(370.7,715.4) scale(1.0,1)" font-size="33" text-anchor="middle" fill="#000">6</text>
<text transform="translate(437.5,715.4) scale(1.0,1)" font-size="33" text-anchor="middle" fill="#000">7</text>
<text transform="translate(507.2,715.4) scale(1.0,1)" font-size="33" text-anchor="middle" fill="#000">8</text>
<text transform="translate(573.8,715.4) scale(1.0,1)" font-size="33" text-anchor="middle" fill="#000">9</text>
<text transform="translate(644.7,715.4) scale(0.96,1)" font-size="33" text-anchor="middle" fill="#000">10</text>
<text transform="translate(708,715.4) scale(0.96,1)" font-size="33" text-anchor="middle" fill="#000">11</text>
<text transform="translate(784.3,715.4) scale(0.96,1)" font-size="33" text-anchor="middle" fill="#000">12</text>
<text transform="translate(852.9,715.4) scale(0.96,1)" font-size="33" text-anchor="middle" fill="#000">13</text>
<text transform="translate(921.2,715.4) scale(0.96,1)" font-size="33" text-anchor="middle" fill="#000">14</text>
<text transform="translate(987.7,715.4) scale(0.96,1)" font-size="33" text-anchor="middle" fill="#000">15</text>
<text transform="translate(1053.3,715.4) scale(0.96,1)" font-size="33" text-anchor="middle" fill="#000">16</text>
<text transform="translate(1119.7,715.4) scale(0.96,1)" font-size="33" text-anchor="middle" fill="#000">17</text>
<text transform="translate(1190.9,715.4) scale(0.96,1)" font-size="33" text-anchor="middle" fill="#000">18</text>
<text transform="translate(1254.6,715.4) scale(0.96,1)" font-size="33" text-anchor="middle" fill="#000">19</text>
<text x="714.2" y="758.2" font-size="31.6" font-weight="bold" text-anchor="middle" fill="#000">age (years)</text>
<text transform="translate(25.9,338.4) rotate(-90)" x="0" y="0" font-size="32" font-weight="bold" text-anchor="middle" fill="#000">height (cm)</text>
</svg></body></html>
